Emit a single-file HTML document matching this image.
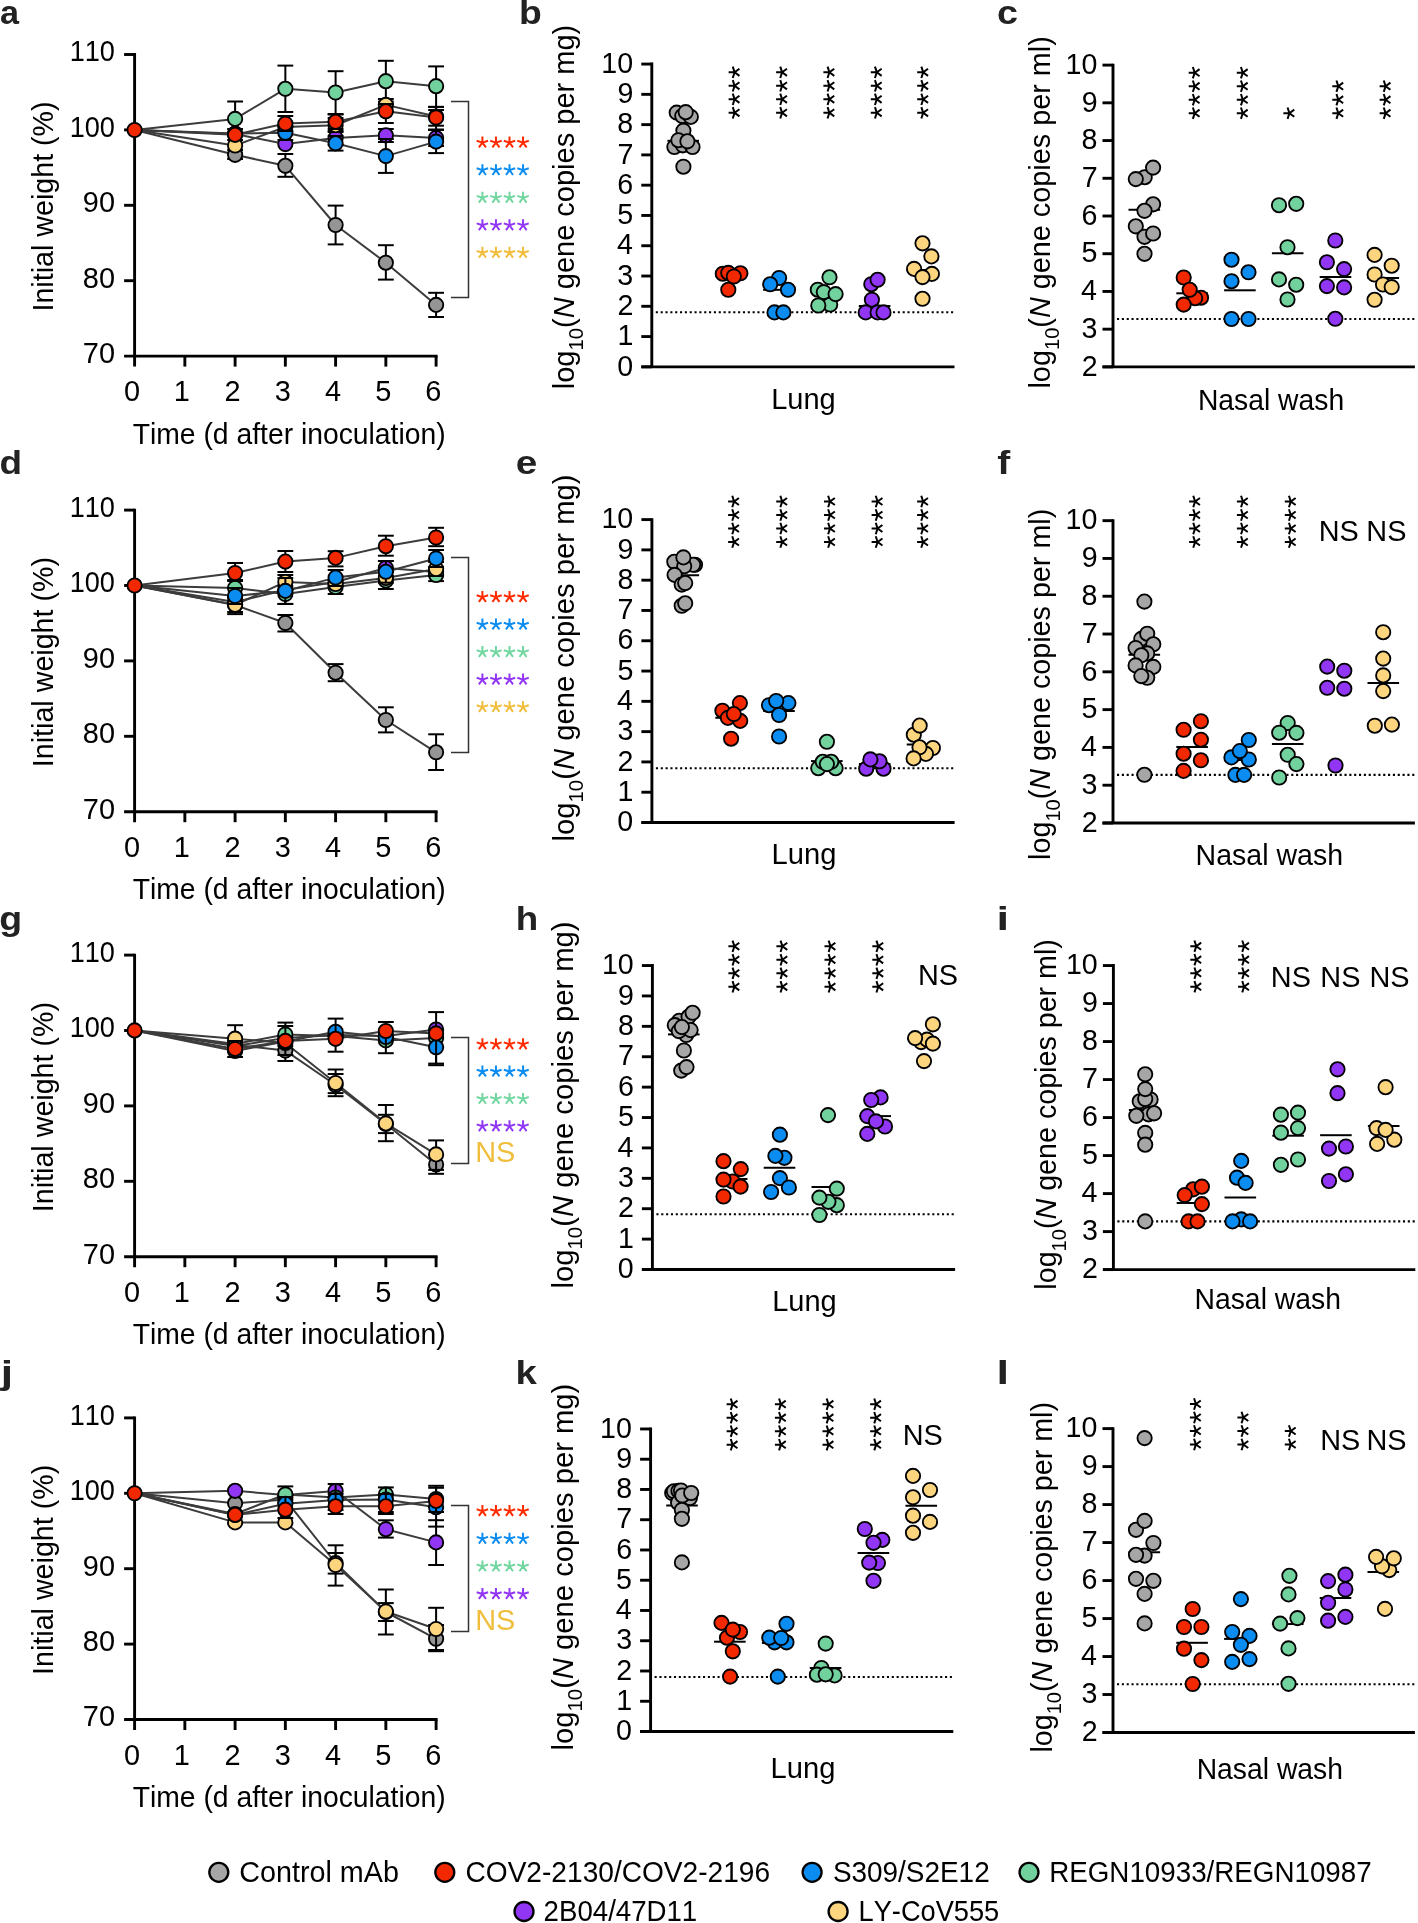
<!DOCTYPE html>
<html><head><meta charset="utf-8"><style>
html,body{margin:0;padding:0;background:#fff;}
svg{display:block;will-change:transform;font-family:"Liberation Sans", sans-serif;font-kerning:none;}
</style></head><body>
<svg xmlns="http://www.w3.org/2000/svg" width="1418" height="1923" viewBox="0 0 1418 1923">
<rect width="1418" height="1923" fill="#fff"/>
<line x1="134.6" y1="53.05" x2="134.6" y2="366.6" stroke="#000" stroke-width="2.9"/>
<line x1="124.1" y1="356.1" x2="437.6" y2="356.1" stroke="#000" stroke-width="2.9"/>
<line x1="124.1" y1="54.5" x2="134.6" y2="54.5" stroke="#000" stroke-width="2.9"/>
<line x1="124.1" y1="129.9" x2="134.6" y2="129.9" stroke="#000" stroke-width="2.9"/>
<line x1="124.1" y1="205.3" x2="134.6" y2="205.3" stroke="#000" stroke-width="2.9"/>
<line x1="124.1" y1="280.7" x2="134.6" y2="280.7" stroke="#000" stroke-width="2.9"/>
<line x1="184.85" y1="356.1" x2="184.85" y2="366.6" stroke="#000" stroke-width="2.9"/>
<line x1="235.1" y1="356.1" x2="235.1" y2="366.6" stroke="#000" stroke-width="2.9"/>
<line x1="285.35" y1="356.1" x2="285.35" y2="366.6" stroke="#000" stroke-width="2.9"/>
<line x1="335.6" y1="356.1" x2="335.6" y2="366.6" stroke="#000" stroke-width="2.9"/>
<line x1="385.85" y1="356.1" x2="385.85" y2="366.6" stroke="#000" stroke-width="2.9"/>
<line x1="436.1" y1="356.1" x2="436.1" y2="366.6" stroke="#000" stroke-width="2.9"/>
<text transform="translate(69.68 61.4) scale(0.9200 1)" font-size="29.5">110</text>
<text transform="translate(69.68 136.8) scale(0.9200 1)" font-size="29.5">100</text>
<text transform="translate(82.87 212.2) scale(0.9800 1)" font-size="29.5">90</text>
<text transform="translate(82.87 287.6) scale(0.9800 1)" font-size="29.5">80</text>
<text transform="translate(82.87 363) scale(0.9800 1)" font-size="29.5">70</text>
<text transform="translate(123.96 401.4) scale(0.9800 1)" font-size="29.5">0</text>
<text transform="translate(173.82 401.4) scale(0.9800 1)" font-size="29.5">1</text>
<text transform="translate(224.46 401.4) scale(0.9800 1)" font-size="29.5">2</text>
<text transform="translate(274.8 401.4) scale(0.9800 1)" font-size="29.5">3</text>
<text transform="translate(325.05 401.4) scale(0.9800 1)" font-size="29.5">4</text>
<text transform="translate(375.24 401.4) scale(0.9800 1)" font-size="29.5">5</text>
<text transform="translate(425.36 401.4) scale(0.9800 1)" font-size="29.5">6</text>
<text transform="translate(132.66 443.6) scale(0.9436 1)" font-size="30">Time (d after inoculation)</text>
<text transform="translate(52.6 311.54) rotate(-90) scale(0.9552 1)" font-size="30">Initial weight (%)</text>
<text transform="translate(0.06 23.8) scale(1.0526 1)" font-size="32.5" font-weight="bold" fill="#222">a</text>
<polyline points="134.6,130 235.1,154.8 285.35,165.8 335.6,225 385.85,262.7 436.1,304.9" fill="none" stroke="#3c3c3c" stroke-width="2" stroke-linejoin="round"/>
<polyline points="134.6,130 235.1,134 285.35,144.1 335.6,137.9 385.85,135.3 436.1,137.9" fill="none" stroke="#3c3c3c" stroke-width="2" stroke-linejoin="round"/>
<polyline points="134.6,130 235.1,118.9 285.35,88.8 335.6,92.5 385.85,81.2 436.1,86.2" fill="none" stroke="#3c3c3c" stroke-width="2" stroke-linejoin="round"/>
<polyline points="134.6,130 235.1,145.5 285.35,127 335.6,125.2 385.85,104.9 436.1,116.5" fill="none" stroke="#3c3c3c" stroke-width="2" stroke-linejoin="round"/>
<polyline points="134.6,130 235.1,133.5 285.35,132.8 335.6,143.3 385.85,156.1 436.1,141.6" fill="none" stroke="#3c3c3c" stroke-width="2" stroke-linejoin="round"/>
<polyline points="134.6,130 235.1,134.8 285.35,123.6 335.6,121.8 385.85,111.3 436.1,117.5" fill="none" stroke="#3c3c3c" stroke-width="2" stroke-linejoin="round"/>
<line x1="235.1" y1="150" x2="235.1" y2="159" stroke="#000" stroke-width="2"/>
<line x1="227.2" y1="150" x2="243" y2="150" stroke="#000" stroke-width="2"/>
<line x1="227.2" y1="159" x2="243" y2="159" stroke="#000" stroke-width="2"/>
<line x1="285.35" y1="154" x2="285.35" y2="176.8" stroke="#000" stroke-width="2"/>
<line x1="277.45" y1="154" x2="293.25" y2="154" stroke="#000" stroke-width="2"/>
<line x1="277.45" y1="176.8" x2="293.25" y2="176.8" stroke="#000" stroke-width="2"/>
<line x1="335.6" y1="205.6" x2="335.6" y2="244.4" stroke="#000" stroke-width="2"/>
<line x1="327.7" y1="205.6" x2="343.5" y2="205.6" stroke="#000" stroke-width="2"/>
<line x1="327.7" y1="244.4" x2="343.5" y2="244.4" stroke="#000" stroke-width="2"/>
<line x1="385.85" y1="245.2" x2="385.85" y2="279.6" stroke="#000" stroke-width="2"/>
<line x1="377.95" y1="245.2" x2="393.75" y2="245.2" stroke="#000" stroke-width="2"/>
<line x1="377.95" y1="279.6" x2="393.75" y2="279.6" stroke="#000" stroke-width="2"/>
<line x1="436.1" y1="292.8" x2="436.1" y2="317" stroke="#000" stroke-width="2"/>
<line x1="428.2" y1="292.8" x2="444" y2="292.8" stroke="#000" stroke-width="2"/>
<line x1="428.2" y1="317" x2="444" y2="317" stroke="#000" stroke-width="2"/>
<circle cx="235.1" cy="154.8" r="7.15" fill="#959595" stroke="#000" stroke-width="1.85"/>
<circle cx="285.35" cy="165.8" r="7.15" fill="#959595" stroke="#000" stroke-width="1.85"/>
<circle cx="335.6" cy="225" r="7.15" fill="#959595" stroke="#000" stroke-width="1.85"/>
<circle cx="385.85" cy="262.7" r="7.15" fill="#959595" stroke="#000" stroke-width="1.85"/>
<circle cx="436.1" cy="304.9" r="7.15" fill="#959595" stroke="#000" stroke-width="1.85"/>
<line x1="335.6" y1="131" x2="335.6" y2="145" stroke="#000" stroke-width="2"/>
<line x1="327.7" y1="131" x2="343.5" y2="131" stroke="#000" stroke-width="2"/>
<line x1="327.7" y1="145" x2="343.5" y2="145" stroke="#000" stroke-width="2"/>
<line x1="385.85" y1="129" x2="385.85" y2="142" stroke="#000" stroke-width="2"/>
<line x1="377.95" y1="129" x2="393.75" y2="129" stroke="#000" stroke-width="2"/>
<line x1="377.95" y1="142" x2="393.75" y2="142" stroke="#000" stroke-width="2"/>
<line x1="436.1" y1="129.7" x2="436.1" y2="146" stroke="#000" stroke-width="2"/>
<line x1="428.2" y1="129.7" x2="444" y2="129.7" stroke="#000" stroke-width="2"/>
<line x1="428.2" y1="146" x2="444" y2="146" stroke="#000" stroke-width="2"/>
<circle cx="235.1" cy="134" r="7.15" fill="#9236f6" stroke="#000" stroke-width="1.85"/>
<circle cx="285.35" cy="144.1" r="7.15" fill="#9236f6" stroke="#000" stroke-width="1.85"/>
<circle cx="335.6" cy="137.9" r="7.15" fill="#9236f6" stroke="#000" stroke-width="1.85"/>
<circle cx="385.85" cy="135.3" r="7.15" fill="#9236f6" stroke="#000" stroke-width="1.85"/>
<circle cx="436.1" cy="137.9" r="7.15" fill="#9236f6" stroke="#000" stroke-width="1.85"/>
<line x1="235.1" y1="101.5" x2="235.1" y2="136" stroke="#000" stroke-width="2"/>
<line x1="227.2" y1="101.5" x2="243" y2="101.5" stroke="#000" stroke-width="2"/>
<line x1="227.2" y1="136" x2="243" y2="136" stroke="#000" stroke-width="2"/>
<line x1="285.35" y1="65.6" x2="285.35" y2="112" stroke="#000" stroke-width="2"/>
<line x1="277.45" y1="65.6" x2="293.25" y2="65.6" stroke="#000" stroke-width="2"/>
<line x1="277.45" y1="112" x2="293.25" y2="112" stroke="#000" stroke-width="2"/>
<line x1="335.6" y1="71.2" x2="335.6" y2="114" stroke="#000" stroke-width="2"/>
<line x1="327.7" y1="71.2" x2="343.5" y2="71.2" stroke="#000" stroke-width="2"/>
<line x1="327.7" y1="114" x2="343.5" y2="114" stroke="#000" stroke-width="2"/>
<line x1="385.85" y1="60.8" x2="385.85" y2="101.6" stroke="#000" stroke-width="2"/>
<line x1="377.95" y1="60.8" x2="393.75" y2="60.8" stroke="#000" stroke-width="2"/>
<line x1="377.95" y1="101.6" x2="393.75" y2="101.6" stroke="#000" stroke-width="2"/>
<line x1="436.1" y1="66.4" x2="436.1" y2="106.9" stroke="#000" stroke-width="2"/>
<line x1="428.2" y1="66.4" x2="444" y2="66.4" stroke="#000" stroke-width="2"/>
<line x1="428.2" y1="106.9" x2="444" y2="106.9" stroke="#000" stroke-width="2"/>
<circle cx="235.1" cy="118.9" r="7.15" fill="#72d29e" stroke="#000" stroke-width="1.85"/>
<circle cx="285.35" cy="88.8" r="7.15" fill="#72d29e" stroke="#000" stroke-width="1.85"/>
<circle cx="335.6" cy="92.5" r="7.15" fill="#72d29e" stroke="#000" stroke-width="1.85"/>
<circle cx="385.85" cy="81.2" r="7.15" fill="#72d29e" stroke="#000" stroke-width="1.85"/>
<circle cx="436.1" cy="86.2" r="7.15" fill="#72d29e" stroke="#000" stroke-width="1.85"/>
<line x1="335.6" y1="118" x2="335.6" y2="132" stroke="#000" stroke-width="2"/>
<line x1="327.7" y1="118" x2="343.5" y2="118" stroke="#000" stroke-width="2"/>
<line x1="327.7" y1="132" x2="343.5" y2="132" stroke="#000" stroke-width="2"/>
<line x1="385.85" y1="99" x2="385.85" y2="111" stroke="#000" stroke-width="2"/>
<line x1="377.95" y1="99" x2="393.75" y2="99" stroke="#000" stroke-width="2"/>
<line x1="377.95" y1="111" x2="393.75" y2="111" stroke="#000" stroke-width="2"/>
<line x1="436.1" y1="106.9" x2="436.1" y2="129.7" stroke="#000" stroke-width="2"/>
<line x1="428.2" y1="106.9" x2="444" y2="106.9" stroke="#000" stroke-width="2"/>
<line x1="428.2" y1="129.7" x2="444" y2="129.7" stroke="#000" stroke-width="2"/>
<circle cx="235.1" cy="145.5" r="7.15" fill="#fdd57e" stroke="#000" stroke-width="1.85"/>
<circle cx="285.35" cy="127" r="7.15" fill="#fdd57e" stroke="#000" stroke-width="1.85"/>
<circle cx="335.6" cy="125.2" r="7.15" fill="#fdd57e" stroke="#000" stroke-width="1.85"/>
<circle cx="385.85" cy="104.9" r="7.15" fill="#fdd57e" stroke="#000" stroke-width="1.85"/>
<circle cx="436.1" cy="116.5" r="7.15" fill="#fdd57e" stroke="#000" stroke-width="1.85"/>
<line x1="285.35" y1="126" x2="285.35" y2="140" stroke="#000" stroke-width="2"/>
<line x1="277.45" y1="126" x2="293.25" y2="126" stroke="#000" stroke-width="2"/>
<line x1="277.45" y1="140" x2="293.25" y2="140" stroke="#000" stroke-width="2"/>
<line x1="335.6" y1="136" x2="335.6" y2="150.6" stroke="#000" stroke-width="2"/>
<line x1="327.7" y1="136" x2="343.5" y2="136" stroke="#000" stroke-width="2"/>
<line x1="327.7" y1="150.6" x2="343.5" y2="150.6" stroke="#000" stroke-width="2"/>
<line x1="385.85" y1="139" x2="385.85" y2="172.9" stroke="#000" stroke-width="2"/>
<line x1="377.95" y1="139" x2="393.75" y2="139" stroke="#000" stroke-width="2"/>
<line x1="377.95" y1="172.9" x2="393.75" y2="172.9" stroke="#000" stroke-width="2"/>
<line x1="436.1" y1="130" x2="436.1" y2="153.1" stroke="#000" stroke-width="2"/>
<line x1="428.2" y1="130" x2="444" y2="130" stroke="#000" stroke-width="2"/>
<line x1="428.2" y1="153.1" x2="444" y2="153.1" stroke="#000" stroke-width="2"/>
<circle cx="235.1" cy="133.5" r="7.15" fill="#0a8cf0" stroke="#000" stroke-width="1.85"/>
<circle cx="285.35" cy="132.8" r="7.15" fill="#0a8cf0" stroke="#000" stroke-width="1.85"/>
<circle cx="335.6" cy="143.3" r="7.15" fill="#0a8cf0" stroke="#000" stroke-width="1.85"/>
<circle cx="385.85" cy="156.1" r="7.15" fill="#0a8cf0" stroke="#000" stroke-width="1.85"/>
<circle cx="436.1" cy="141.6" r="7.15" fill="#0a8cf0" stroke="#000" stroke-width="1.85"/>
<line x1="235.1" y1="129" x2="235.1" y2="140" stroke="#000" stroke-width="2"/>
<line x1="227.2" y1="129" x2="243" y2="129" stroke="#000" stroke-width="2"/>
<line x1="227.2" y1="140" x2="243" y2="140" stroke="#000" stroke-width="2"/>
<line x1="285.35" y1="116" x2="285.35" y2="131" stroke="#000" stroke-width="2"/>
<line x1="277.45" y1="116" x2="293.25" y2="116" stroke="#000" stroke-width="2"/>
<line x1="277.45" y1="131" x2="293.25" y2="131" stroke="#000" stroke-width="2"/>
<line x1="335.6" y1="114.5" x2="335.6" y2="129" stroke="#000" stroke-width="2"/>
<line x1="327.7" y1="114.5" x2="343.5" y2="114.5" stroke="#000" stroke-width="2"/>
<line x1="327.7" y1="129" x2="343.5" y2="129" stroke="#000" stroke-width="2"/>
<line x1="385.85" y1="104" x2="385.85" y2="123" stroke="#000" stroke-width="2"/>
<line x1="377.95" y1="104" x2="393.75" y2="104" stroke="#000" stroke-width="2"/>
<line x1="377.95" y1="123" x2="393.75" y2="123" stroke="#000" stroke-width="2"/>
<line x1="436.1" y1="110" x2="436.1" y2="125.7" stroke="#000" stroke-width="2"/>
<line x1="428.2" y1="110" x2="444" y2="110" stroke="#000" stroke-width="2"/>
<line x1="428.2" y1="125.7" x2="444" y2="125.7" stroke="#000" stroke-width="2"/>
<circle cx="134.6" cy="130" r="7.15" fill="#f22800" stroke="#000" stroke-width="1.85"/>
<circle cx="235.1" cy="134.8" r="7.15" fill="#f22800" stroke="#000" stroke-width="1.85"/>
<circle cx="285.35" cy="123.6" r="7.15" fill="#f22800" stroke="#000" stroke-width="1.85"/>
<circle cx="335.6" cy="121.8" r="7.15" fill="#f22800" stroke="#000" stroke-width="1.85"/>
<circle cx="385.85" cy="111.3" r="7.15" fill="#f22800" stroke="#000" stroke-width="1.85"/>
<circle cx="436.1" cy="117.5" r="7.15" fill="#f22800" stroke="#000" stroke-width="1.85"/>
<polyline points="451,101.6 468.5,101.6 468.5,297.6 451,297.6" fill="none" stroke="#333" stroke-width="1.5"/>
<path d="M482.4 142.6L482.4 136.6M482.4 142.6L488.11 140.75M482.4 142.6L485.93 147.45M482.4 142.6L478.87 147.45M482.4 142.6L476.69 140.75" stroke="#ff2a00" stroke-width="2" fill="none"/>
<path d="M495.95 142.6L495.95 136.6M495.95 142.6L501.66 140.75M495.95 142.6L499.48 147.45M495.95 142.6L492.42 147.45M495.95 142.6L490.24 140.75" stroke="#ff2a00" stroke-width="2" fill="none"/>
<path d="M509.5 142.6L509.5 136.6M509.5 142.6L515.21 140.75M509.5 142.6L513.03 147.45M509.5 142.6L505.97 147.45M509.5 142.6L503.79 140.75" stroke="#ff2a00" stroke-width="2" fill="none"/>
<path d="M523.05 142.6L523.05 136.6M523.05 142.6L528.76 140.75M523.05 142.6L526.58 147.45M523.05 142.6L519.52 147.45M523.05 142.6L517.34 140.75" stroke="#ff2a00" stroke-width="2" fill="none"/>
<path d="M482.4 170.15L482.4 164.15M482.4 170.15L488.11 168.3M482.4 170.15L485.93 175M482.4 170.15L478.87 175M482.4 170.15L476.69 168.3" stroke="#0a8cf0" stroke-width="2" fill="none"/>
<path d="M495.95 170.15L495.95 164.15M495.95 170.15L501.66 168.3M495.95 170.15L499.48 175M495.95 170.15L492.42 175M495.95 170.15L490.24 168.3" stroke="#0a8cf0" stroke-width="2" fill="none"/>
<path d="M509.5 170.15L509.5 164.15M509.5 170.15L515.21 168.3M509.5 170.15L513.03 175M509.5 170.15L505.97 175M509.5 170.15L503.79 168.3" stroke="#0a8cf0" stroke-width="2" fill="none"/>
<path d="M523.05 170.15L523.05 164.15M523.05 170.15L528.76 168.3M523.05 170.15L526.58 175M523.05 170.15L519.52 175M523.05 170.15L517.34 168.3" stroke="#0a8cf0" stroke-width="2" fill="none"/>
<path d="M482.4 197.7L482.4 191.7M482.4 197.7L488.11 195.85M482.4 197.7L485.93 202.55M482.4 197.7L478.87 202.55M482.4 197.7L476.69 195.85" stroke="#72d6a0" stroke-width="2" fill="none"/>
<path d="M495.95 197.7L495.95 191.7M495.95 197.7L501.66 195.85M495.95 197.7L499.48 202.55M495.95 197.7L492.42 202.55M495.95 197.7L490.24 195.85" stroke="#72d6a0" stroke-width="2" fill="none"/>
<path d="M509.5 197.7L509.5 191.7M509.5 197.7L515.21 195.85M509.5 197.7L513.03 202.55M509.5 197.7L505.97 202.55M509.5 197.7L503.79 195.85" stroke="#72d6a0" stroke-width="2" fill="none"/>
<path d="M523.05 197.7L523.05 191.7M523.05 197.7L528.76 195.85M523.05 197.7L526.58 202.55M523.05 197.7L519.52 202.55M523.05 197.7L517.34 195.85" stroke="#72d6a0" stroke-width="2" fill="none"/>
<path d="M482.4 225.25L482.4 219.25M482.4 225.25L488.11 223.4M482.4 225.25L485.93 230.1M482.4 225.25L478.87 230.1M482.4 225.25L476.69 223.4" stroke="#9236f6" stroke-width="2" fill="none"/>
<path d="M495.95 225.25L495.95 219.25M495.95 225.25L501.66 223.4M495.95 225.25L499.48 230.1M495.95 225.25L492.42 230.1M495.95 225.25L490.24 223.4" stroke="#9236f6" stroke-width="2" fill="none"/>
<path d="M509.5 225.25L509.5 219.25M509.5 225.25L515.21 223.4M509.5 225.25L513.03 230.1M509.5 225.25L505.97 230.1M509.5 225.25L503.79 223.4" stroke="#9236f6" stroke-width="2" fill="none"/>
<path d="M523.05 225.25L523.05 219.25M523.05 225.25L528.76 223.4M523.05 225.25L526.58 230.1M523.05 225.25L519.52 230.1M523.05 225.25L517.34 223.4" stroke="#9236f6" stroke-width="2" fill="none"/>
<path d="M482.4 252.8L482.4 246.8M482.4 252.8L488.11 250.95M482.4 252.8L485.93 257.65M482.4 252.8L478.87 257.65M482.4 252.8L476.69 250.95" stroke="#f0be3c" stroke-width="2" fill="none"/>
<path d="M495.95 252.8L495.95 246.8M495.95 252.8L501.66 250.95M495.95 252.8L499.48 257.65M495.95 252.8L492.42 257.65M495.95 252.8L490.24 250.95" stroke="#f0be3c" stroke-width="2" fill="none"/>
<path d="M509.5 252.8L509.5 246.8M509.5 252.8L515.21 250.95M509.5 252.8L513.03 257.65M509.5 252.8L505.97 257.65M509.5 252.8L503.79 250.95" stroke="#f0be3c" stroke-width="2" fill="none"/>
<path d="M523.05 252.8L523.05 246.8M523.05 252.8L528.76 250.95M523.05 252.8L526.58 257.65M523.05 252.8L519.52 257.65M523.05 252.8L517.34 250.95" stroke="#f0be3c" stroke-width="2" fill="none"/>
<line x1="134.6" y1="508.65" x2="134.6" y2="822.2" stroke="#000" stroke-width="2.9"/>
<line x1="124.1" y1="811.7" x2="437.6" y2="811.7" stroke="#000" stroke-width="2.9"/>
<line x1="124.1" y1="510.1" x2="134.6" y2="510.1" stroke="#000" stroke-width="2.9"/>
<line x1="124.1" y1="585.5" x2="134.6" y2="585.5" stroke="#000" stroke-width="2.9"/>
<line x1="124.1" y1="660.9" x2="134.6" y2="660.9" stroke="#000" stroke-width="2.9"/>
<line x1="124.1" y1="736.3" x2="134.6" y2="736.3" stroke="#000" stroke-width="2.9"/>
<line x1="184.85" y1="811.7" x2="184.85" y2="822.2" stroke="#000" stroke-width="2.9"/>
<line x1="235.1" y1="811.7" x2="235.1" y2="822.2" stroke="#000" stroke-width="2.9"/>
<line x1="285.35" y1="811.7" x2="285.35" y2="822.2" stroke="#000" stroke-width="2.9"/>
<line x1="335.6" y1="811.7" x2="335.6" y2="822.2" stroke="#000" stroke-width="2.9"/>
<line x1="385.85" y1="811.7" x2="385.85" y2="822.2" stroke="#000" stroke-width="2.9"/>
<line x1="436.1" y1="811.7" x2="436.1" y2="822.2" stroke="#000" stroke-width="2.9"/>
<text transform="translate(69.68 517) scale(0.9200 1)" font-size="29.5">110</text>
<text transform="translate(69.68 592.4) scale(0.9200 1)" font-size="29.5">100</text>
<text transform="translate(82.87 667.8) scale(0.9800 1)" font-size="29.5">90</text>
<text transform="translate(82.87 743.2) scale(0.9800 1)" font-size="29.5">80</text>
<text transform="translate(82.87 818.6) scale(0.9800 1)" font-size="29.5">70</text>
<text transform="translate(123.96 857) scale(0.9800 1)" font-size="29.5">0</text>
<text transform="translate(173.82 857) scale(0.9800 1)" font-size="29.5">1</text>
<text transform="translate(224.46 857) scale(0.9800 1)" font-size="29.5">2</text>
<text transform="translate(274.8 857) scale(0.9800 1)" font-size="29.5">3</text>
<text transform="translate(325.05 857) scale(0.9800 1)" font-size="29.5">4</text>
<text transform="translate(375.24 857) scale(0.9800 1)" font-size="29.5">5</text>
<text transform="translate(425.36 857) scale(0.9800 1)" font-size="29.5">6</text>
<text transform="translate(132.66 899.2) scale(0.9436 1)" font-size="30">Time (d after inoculation)</text>
<text transform="translate(52.6 767.14) rotate(-90) scale(0.9552 1)" font-size="30">Initial weight (%)</text>
<text transform="translate(-0.41 474.1) scale(1.1357 1)" font-size="32.5" font-weight="bold" fill="#222">d</text>
<polyline points="134.6,585.5 235.1,605 285.35,623 335.6,672.7 385.85,720 436.1,752.3" fill="none" stroke="#3c3c3c" stroke-width="2" stroke-linejoin="round"/>
<polyline points="134.6,585.5 235.1,602 285.35,590 335.6,582 385.85,568 436.1,572" fill="none" stroke="#3c3c3c" stroke-width="2" stroke-linejoin="round"/>
<polyline points="134.6,585.5 235.1,588 285.35,594 335.6,587 385.85,580.5 436.1,575" fill="none" stroke="#3c3c3c" stroke-width="2" stroke-linejoin="round"/>
<polyline points="134.6,585.5 235.1,604.8 285.35,582 335.6,584 385.85,578 436.1,569" fill="none" stroke="#3c3c3c" stroke-width="2" stroke-linejoin="round"/>
<polyline points="134.6,585.5 235.1,596 285.35,590.9 335.6,577.6 385.85,571.8 436.1,558.5" fill="none" stroke="#3c3c3c" stroke-width="2" stroke-linejoin="round"/>
<polyline points="134.6,585.5 235.1,573 285.35,561.6 335.6,557.9 385.85,546.2 436.1,537.5" fill="none" stroke="#3c3c3c" stroke-width="2" stroke-linejoin="round"/>
<line x1="235.1" y1="598" x2="235.1" y2="612" stroke="#000" stroke-width="2"/>
<line x1="227.2" y1="598" x2="243" y2="598" stroke="#000" stroke-width="2"/>
<line x1="227.2" y1="612" x2="243" y2="612" stroke="#000" stroke-width="2"/>
<line x1="285.35" y1="615" x2="285.35" y2="631.5" stroke="#000" stroke-width="2"/>
<line x1="277.45" y1="615" x2="293.25" y2="615" stroke="#000" stroke-width="2"/>
<line x1="277.45" y1="631.5" x2="293.25" y2="631.5" stroke="#000" stroke-width="2"/>
<line x1="335.6" y1="664.1" x2="335.6" y2="681.2" stroke="#000" stroke-width="2"/>
<line x1="327.7" y1="664.1" x2="343.5" y2="664.1" stroke="#000" stroke-width="2"/>
<line x1="327.7" y1="681.2" x2="343.5" y2="681.2" stroke="#000" stroke-width="2"/>
<line x1="385.85" y1="707.3" x2="385.85" y2="732.4" stroke="#000" stroke-width="2"/>
<line x1="377.95" y1="707.3" x2="393.75" y2="707.3" stroke="#000" stroke-width="2"/>
<line x1="377.95" y1="732.4" x2="393.75" y2="732.4" stroke="#000" stroke-width="2"/>
<line x1="436.1" y1="734.3" x2="436.1" y2="770" stroke="#000" stroke-width="2"/>
<line x1="428.2" y1="734.3" x2="444" y2="734.3" stroke="#000" stroke-width="2"/>
<line x1="428.2" y1="770" x2="444" y2="770" stroke="#000" stroke-width="2"/>
<circle cx="235.1" cy="605" r="7.15" fill="#959595" stroke="#000" stroke-width="1.85"/>
<circle cx="285.35" cy="623" r="7.15" fill="#959595" stroke="#000" stroke-width="1.85"/>
<circle cx="335.6" cy="672.7" r="7.15" fill="#959595" stroke="#000" stroke-width="1.85"/>
<circle cx="385.85" cy="720" r="7.15" fill="#959595" stroke="#000" stroke-width="1.85"/>
<circle cx="436.1" cy="752.3" r="7.15" fill="#959595" stroke="#000" stroke-width="1.85"/>
<line x1="385.85" y1="561" x2="385.85" y2="576" stroke="#000" stroke-width="2"/>
<line x1="377.95" y1="561" x2="393.75" y2="561" stroke="#000" stroke-width="2"/>
<line x1="377.95" y1="576" x2="393.75" y2="576" stroke="#000" stroke-width="2"/>
<circle cx="235.1" cy="602" r="7.15" fill="#9236f6" stroke="#000" stroke-width="1.85"/>
<circle cx="285.35" cy="590" r="7.15" fill="#9236f6" stroke="#000" stroke-width="1.85"/>
<circle cx="335.6" cy="582" r="7.15" fill="#9236f6" stroke="#000" stroke-width="1.85"/>
<circle cx="385.85" cy="568" r="7.15" fill="#9236f6" stroke="#000" stroke-width="1.85"/>
<circle cx="436.1" cy="572" r="7.15" fill="#9236f6" stroke="#000" stroke-width="1.85"/>
<line x1="235.1" y1="580" x2="235.1" y2="596" stroke="#000" stroke-width="2"/>
<line x1="227.2" y1="580" x2="243" y2="580" stroke="#000" stroke-width="2"/>
<line x1="227.2" y1="596" x2="243" y2="596" stroke="#000" stroke-width="2"/>
<line x1="285.35" y1="586" x2="285.35" y2="604" stroke="#000" stroke-width="2"/>
<line x1="277.45" y1="586" x2="293.25" y2="586" stroke="#000" stroke-width="2"/>
<line x1="277.45" y1="604" x2="293.25" y2="604" stroke="#000" stroke-width="2"/>
<line x1="335.6" y1="580" x2="335.6" y2="594" stroke="#000" stroke-width="2"/>
<line x1="327.7" y1="580" x2="343.5" y2="580" stroke="#000" stroke-width="2"/>
<line x1="327.7" y1="594" x2="343.5" y2="594" stroke="#000" stroke-width="2"/>
<line x1="385.85" y1="572" x2="385.85" y2="589" stroke="#000" stroke-width="2"/>
<line x1="377.95" y1="572" x2="393.75" y2="572" stroke="#000" stroke-width="2"/>
<line x1="377.95" y1="589" x2="393.75" y2="589" stroke="#000" stroke-width="2"/>
<line x1="436.1" y1="568" x2="436.1" y2="581.1" stroke="#000" stroke-width="2"/>
<line x1="428.2" y1="568" x2="444" y2="568" stroke="#000" stroke-width="2"/>
<line x1="428.2" y1="581.1" x2="444" y2="581.1" stroke="#000" stroke-width="2"/>
<circle cx="235.1" cy="588" r="7.15" fill="#72d29e" stroke="#000" stroke-width="1.85"/>
<circle cx="285.35" cy="594" r="7.15" fill="#72d29e" stroke="#000" stroke-width="1.85"/>
<circle cx="335.6" cy="587" r="7.15" fill="#72d29e" stroke="#000" stroke-width="1.85"/>
<circle cx="385.85" cy="580.5" r="7.15" fill="#72d29e" stroke="#000" stroke-width="1.85"/>
<circle cx="436.1" cy="575" r="7.15" fill="#72d29e" stroke="#000" stroke-width="1.85"/>
<line x1="235.1" y1="596" x2="235.1" y2="614.1" stroke="#000" stroke-width="2"/>
<line x1="227.2" y1="596" x2="243" y2="596" stroke="#000" stroke-width="2"/>
<line x1="227.2" y1="614.1" x2="243" y2="614.1" stroke="#000" stroke-width="2"/>
<line x1="285.35" y1="575" x2="285.35" y2="590" stroke="#000" stroke-width="2"/>
<line x1="277.45" y1="575" x2="293.25" y2="575" stroke="#000" stroke-width="2"/>
<line x1="277.45" y1="590" x2="293.25" y2="590" stroke="#000" stroke-width="2"/>
<line x1="436.1" y1="562" x2="436.1" y2="576" stroke="#000" stroke-width="2"/>
<line x1="428.2" y1="562" x2="444" y2="562" stroke="#000" stroke-width="2"/>
<line x1="428.2" y1="576" x2="444" y2="576" stroke="#000" stroke-width="2"/>
<circle cx="235.1" cy="604.8" r="7.15" fill="#fdd57e" stroke="#000" stroke-width="1.85"/>
<circle cx="285.35" cy="582" r="7.15" fill="#fdd57e" stroke="#000" stroke-width="1.85"/>
<circle cx="335.6" cy="584" r="7.15" fill="#fdd57e" stroke="#000" stroke-width="1.85"/>
<circle cx="385.85" cy="578" r="7.15" fill="#fdd57e" stroke="#000" stroke-width="1.85"/>
<circle cx="436.1" cy="569" r="7.15" fill="#fdd57e" stroke="#000" stroke-width="1.85"/>
<line x1="235.1" y1="588" x2="235.1" y2="604" stroke="#000" stroke-width="2"/>
<line x1="227.2" y1="588" x2="243" y2="588" stroke="#000" stroke-width="2"/>
<line x1="227.2" y1="604" x2="243" y2="604" stroke="#000" stroke-width="2"/>
<line x1="285.35" y1="578" x2="285.35" y2="603.9" stroke="#000" stroke-width="2"/>
<line x1="277.45" y1="578" x2="293.25" y2="578" stroke="#000" stroke-width="2"/>
<line x1="277.45" y1="603.9" x2="293.25" y2="603.9" stroke="#000" stroke-width="2"/>
<line x1="335.6" y1="570" x2="335.6" y2="586" stroke="#000" stroke-width="2"/>
<line x1="327.7" y1="570" x2="343.5" y2="570" stroke="#000" stroke-width="2"/>
<line x1="327.7" y1="586" x2="343.5" y2="586" stroke="#000" stroke-width="2"/>
<line x1="385.85" y1="561" x2="385.85" y2="582.7" stroke="#000" stroke-width="2"/>
<line x1="377.95" y1="561" x2="393.75" y2="561" stroke="#000" stroke-width="2"/>
<line x1="377.95" y1="582.7" x2="393.75" y2="582.7" stroke="#000" stroke-width="2"/>
<line x1="436.1" y1="550" x2="436.1" y2="567" stroke="#000" stroke-width="2"/>
<line x1="428.2" y1="550" x2="444" y2="550" stroke="#000" stroke-width="2"/>
<line x1="428.2" y1="567" x2="444" y2="567" stroke="#000" stroke-width="2"/>
<circle cx="235.1" cy="596" r="7.15" fill="#0a8cf0" stroke="#000" stroke-width="1.85"/>
<circle cx="285.35" cy="590.9" r="7.15" fill="#0a8cf0" stroke="#000" stroke-width="1.85"/>
<circle cx="335.6" cy="577.6" r="7.15" fill="#0a8cf0" stroke="#000" stroke-width="1.85"/>
<circle cx="385.85" cy="571.8" r="7.15" fill="#0a8cf0" stroke="#000" stroke-width="1.85"/>
<circle cx="436.1" cy="558.5" r="7.15" fill="#0a8cf0" stroke="#000" stroke-width="1.85"/>
<line x1="235.1" y1="563" x2="235.1" y2="581" stroke="#000" stroke-width="2"/>
<line x1="227.2" y1="563" x2="243" y2="563" stroke="#000" stroke-width="2"/>
<line x1="227.2" y1="581" x2="243" y2="581" stroke="#000" stroke-width="2"/>
<line x1="285.35" y1="551" x2="285.35" y2="572" stroke="#000" stroke-width="2"/>
<line x1="277.45" y1="551" x2="293.25" y2="551" stroke="#000" stroke-width="2"/>
<line x1="277.45" y1="572" x2="293.25" y2="572" stroke="#000" stroke-width="2"/>
<line x1="335.6" y1="551.2" x2="335.6" y2="566.4" stroke="#000" stroke-width="2"/>
<line x1="327.7" y1="551.2" x2="343.5" y2="551.2" stroke="#000" stroke-width="2"/>
<line x1="327.7" y1="566.4" x2="343.5" y2="566.4" stroke="#000" stroke-width="2"/>
<line x1="385.85" y1="535.7" x2="385.85" y2="555.7" stroke="#000" stroke-width="2"/>
<line x1="377.95" y1="535.7" x2="393.75" y2="535.7" stroke="#000" stroke-width="2"/>
<line x1="377.95" y1="555.7" x2="393.75" y2="555.7" stroke="#000" stroke-width="2"/>
<line x1="436.1" y1="527.8" x2="436.1" y2="546.2" stroke="#000" stroke-width="2"/>
<line x1="428.2" y1="527.8" x2="444" y2="527.8" stroke="#000" stroke-width="2"/>
<line x1="428.2" y1="546.2" x2="444" y2="546.2" stroke="#000" stroke-width="2"/>
<circle cx="134.6" cy="585.5" r="7.15" fill="#f22800" stroke="#000" stroke-width="1.85"/>
<circle cx="235.1" cy="573" r="7.15" fill="#f22800" stroke="#000" stroke-width="1.85"/>
<circle cx="285.35" cy="561.6" r="7.15" fill="#f22800" stroke="#000" stroke-width="1.85"/>
<circle cx="335.6" cy="557.9" r="7.15" fill="#f22800" stroke="#000" stroke-width="1.85"/>
<circle cx="385.85" cy="546.2" r="7.15" fill="#f22800" stroke="#000" stroke-width="1.85"/>
<circle cx="436.1" cy="537.5" r="7.15" fill="#f22800" stroke="#000" stroke-width="1.85"/>
<polyline points="451,557.5 468.5,557.5 468.5,752.6 451,752.6" fill="none" stroke="#333" stroke-width="1.5"/>
<path d="M482.4 597.1L482.4 591.1M482.4 597.1L488.11 595.25M482.4 597.1L485.93 601.95M482.4 597.1L478.87 601.95M482.4 597.1L476.69 595.25" stroke="#ff2a00" stroke-width="2" fill="none"/>
<path d="M495.95 597.1L495.95 591.1M495.95 597.1L501.66 595.25M495.95 597.1L499.48 601.95M495.95 597.1L492.42 601.95M495.95 597.1L490.24 595.25" stroke="#ff2a00" stroke-width="2" fill="none"/>
<path d="M509.5 597.1L509.5 591.1M509.5 597.1L515.21 595.25M509.5 597.1L513.03 601.95M509.5 597.1L505.97 601.95M509.5 597.1L503.79 595.25" stroke="#ff2a00" stroke-width="2" fill="none"/>
<path d="M523.05 597.1L523.05 591.1M523.05 597.1L528.76 595.25M523.05 597.1L526.58 601.95M523.05 597.1L519.52 601.95M523.05 597.1L517.34 595.25" stroke="#ff2a00" stroke-width="2" fill="none"/>
<path d="M482.4 624.6L482.4 618.6M482.4 624.6L488.11 622.75M482.4 624.6L485.93 629.45M482.4 624.6L478.87 629.45M482.4 624.6L476.69 622.75" stroke="#0a8cf0" stroke-width="2" fill="none"/>
<path d="M495.95 624.6L495.95 618.6M495.95 624.6L501.66 622.75M495.95 624.6L499.48 629.45M495.95 624.6L492.42 629.45M495.95 624.6L490.24 622.75" stroke="#0a8cf0" stroke-width="2" fill="none"/>
<path d="M509.5 624.6L509.5 618.6M509.5 624.6L515.21 622.75M509.5 624.6L513.03 629.45M509.5 624.6L505.97 629.45M509.5 624.6L503.79 622.75" stroke="#0a8cf0" stroke-width="2" fill="none"/>
<path d="M523.05 624.6L523.05 618.6M523.05 624.6L528.76 622.75M523.05 624.6L526.58 629.45M523.05 624.6L519.52 629.45M523.05 624.6L517.34 622.75" stroke="#0a8cf0" stroke-width="2" fill="none"/>
<path d="M482.4 652.1L482.4 646.1M482.4 652.1L488.11 650.25M482.4 652.1L485.93 656.95M482.4 652.1L478.87 656.95M482.4 652.1L476.69 650.25" stroke="#72d6a0" stroke-width="2" fill="none"/>
<path d="M495.95 652.1L495.95 646.1M495.95 652.1L501.66 650.25M495.95 652.1L499.48 656.95M495.95 652.1L492.42 656.95M495.95 652.1L490.24 650.25" stroke="#72d6a0" stroke-width="2" fill="none"/>
<path d="M509.5 652.1L509.5 646.1M509.5 652.1L515.21 650.25M509.5 652.1L513.03 656.95M509.5 652.1L505.97 656.95M509.5 652.1L503.79 650.25" stroke="#72d6a0" stroke-width="2" fill="none"/>
<path d="M523.05 652.1L523.05 646.1M523.05 652.1L528.76 650.25M523.05 652.1L526.58 656.95M523.05 652.1L519.52 656.95M523.05 652.1L517.34 650.25" stroke="#72d6a0" stroke-width="2" fill="none"/>
<path d="M482.4 679.6L482.4 673.6M482.4 679.6L488.11 677.75M482.4 679.6L485.93 684.45M482.4 679.6L478.87 684.45M482.4 679.6L476.69 677.75" stroke="#9236f6" stroke-width="2" fill="none"/>
<path d="M495.95 679.6L495.95 673.6M495.95 679.6L501.66 677.75M495.95 679.6L499.48 684.45M495.95 679.6L492.42 684.45M495.95 679.6L490.24 677.75" stroke="#9236f6" stroke-width="2" fill="none"/>
<path d="M509.5 679.6L509.5 673.6M509.5 679.6L515.21 677.75M509.5 679.6L513.03 684.45M509.5 679.6L505.97 684.45M509.5 679.6L503.79 677.75" stroke="#9236f6" stroke-width="2" fill="none"/>
<path d="M523.05 679.6L523.05 673.6M523.05 679.6L528.76 677.75M523.05 679.6L526.58 684.45M523.05 679.6L519.52 684.45M523.05 679.6L517.34 677.75" stroke="#9236f6" stroke-width="2" fill="none"/>
<path d="M482.4 707.1L482.4 701.1M482.4 707.1L488.11 705.25M482.4 707.1L485.93 711.95M482.4 707.1L478.87 711.95M482.4 707.1L476.69 705.25" stroke="#f0be3c" stroke-width="2" fill="none"/>
<path d="M495.95 707.1L495.95 701.1M495.95 707.1L501.66 705.25M495.95 707.1L499.48 711.95M495.95 707.1L492.42 711.95M495.95 707.1L490.24 705.25" stroke="#f0be3c" stroke-width="2" fill="none"/>
<path d="M509.5 707.1L509.5 701.1M509.5 707.1L515.21 705.25M509.5 707.1L513.03 711.95M509.5 707.1L505.97 711.95M509.5 707.1L503.79 705.25" stroke="#f0be3c" stroke-width="2" fill="none"/>
<path d="M523.05 707.1L523.05 701.1M523.05 707.1L528.76 705.25M523.05 707.1L526.58 711.95M523.05 707.1L519.52 711.95M523.05 707.1L517.34 705.25" stroke="#f0be3c" stroke-width="2" fill="none"/>
<line x1="134.6" y1="953.65" x2="134.6" y2="1267.2" stroke="#000" stroke-width="2.9"/>
<line x1="124.1" y1="1256.7" x2="437.6" y2="1256.7" stroke="#000" stroke-width="2.9"/>
<line x1="124.1" y1="955.1" x2="134.6" y2="955.1" stroke="#000" stroke-width="2.9"/>
<line x1="124.1" y1="1030.5" x2="134.6" y2="1030.5" stroke="#000" stroke-width="2.9"/>
<line x1="124.1" y1="1105.9" x2="134.6" y2="1105.9" stroke="#000" stroke-width="2.9"/>
<line x1="124.1" y1="1181.3" x2="134.6" y2="1181.3" stroke="#000" stroke-width="2.9"/>
<line x1="184.85" y1="1256.7" x2="184.85" y2="1267.2" stroke="#000" stroke-width="2.9"/>
<line x1="235.1" y1="1256.7" x2="235.1" y2="1267.2" stroke="#000" stroke-width="2.9"/>
<line x1="285.35" y1="1256.7" x2="285.35" y2="1267.2" stroke="#000" stroke-width="2.9"/>
<line x1="335.6" y1="1256.7" x2="335.6" y2="1267.2" stroke="#000" stroke-width="2.9"/>
<line x1="385.85" y1="1256.7" x2="385.85" y2="1267.2" stroke="#000" stroke-width="2.9"/>
<line x1="436.1" y1="1256.7" x2="436.1" y2="1267.2" stroke="#000" stroke-width="2.9"/>
<text transform="translate(69.68 962) scale(0.9200 1)" font-size="29.5">110</text>
<text transform="translate(69.68 1037.4) scale(0.9200 1)" font-size="29.5">100</text>
<text transform="translate(82.87 1112.8) scale(0.9800 1)" font-size="29.5">90</text>
<text transform="translate(82.87 1188.2) scale(0.9800 1)" font-size="29.5">80</text>
<text transform="translate(82.87 1263.6) scale(0.9800 1)" font-size="29.5">70</text>
<text transform="translate(123.96 1302) scale(0.9800 1)" font-size="29.5">0</text>
<text transform="translate(173.82 1302) scale(0.9800 1)" font-size="29.5">1</text>
<text transform="translate(224.46 1302) scale(0.9800 1)" font-size="29.5">2</text>
<text transform="translate(274.8 1302) scale(0.9800 1)" font-size="29.5">3</text>
<text transform="translate(325.05 1302) scale(0.9800 1)" font-size="29.5">4</text>
<text transform="translate(375.24 1302) scale(0.9800 1)" font-size="29.5">5</text>
<text transform="translate(425.36 1302) scale(0.9800 1)" font-size="29.5">6</text>
<text transform="translate(132.66 1344.2) scale(0.9436 1)" font-size="30">Time (d after inoculation)</text>
<text transform="translate(52.6 1212.14) rotate(-90) scale(0.9552 1)" font-size="30">Initial weight (%)</text>
<text transform="translate(-0.69 929.9) scale(1.1532 1)" font-size="32.5" font-weight="bold" fill="#222">g</text>
<polyline points="134.6,1030.45 235.1,1045 285.35,1050.6 335.6,1085 385.85,1124 436.1,1164.5" fill="none" stroke="#3c3c3c" stroke-width="2" stroke-linejoin="round"/>
<polyline points="134.6,1030.45 235.1,1046 285.35,1038 335.6,1035 385.85,1036 436.1,1029.5" fill="none" stroke="#3c3c3c" stroke-width="2" stroke-linejoin="round"/>
<polyline points="134.6,1030.45 235.1,1044 285.35,1034.5 335.6,1036 385.85,1040.4 436.1,1038" fill="none" stroke="#3c3c3c" stroke-width="2" stroke-linejoin="round"/>
<polyline points="134.6,1030.45 235.1,1038.7 285.35,1043 335.6,1083 385.85,1123.4 436.1,1154.4" fill="none" stroke="#3c3c3c" stroke-width="2" stroke-linejoin="round"/>
<polyline points="134.6,1030.45 235.1,1051 285.35,1041.5 335.6,1031.8 385.85,1037 436.1,1047.3" fill="none" stroke="#3c3c3c" stroke-width="2" stroke-linejoin="round"/>
<polyline points="134.6,1030.45 235.1,1048.9 285.35,1040.9 335.6,1038.8 385.85,1031 436.1,1033.4" fill="none" stroke="#3c3c3c" stroke-width="2" stroke-linejoin="round"/>
<line x1="285.35" y1="1040" x2="285.35" y2="1061" stroke="#000" stroke-width="2"/>
<line x1="277.45" y1="1040" x2="293.25" y2="1040" stroke="#000" stroke-width="2"/>
<line x1="277.45" y1="1061" x2="293.25" y2="1061" stroke="#000" stroke-width="2"/>
<line x1="335.6" y1="1074" x2="335.6" y2="1093.1" stroke="#000" stroke-width="2"/>
<line x1="327.7" y1="1074" x2="343.5" y2="1074" stroke="#000" stroke-width="2"/>
<line x1="327.7" y1="1093.1" x2="343.5" y2="1093.1" stroke="#000" stroke-width="2"/>
<line x1="385.85" y1="1114.8" x2="385.85" y2="1133.1" stroke="#000" stroke-width="2"/>
<line x1="377.95" y1="1114.8" x2="393.75" y2="1114.8" stroke="#000" stroke-width="2"/>
<line x1="377.95" y1="1133.1" x2="393.75" y2="1133.1" stroke="#000" stroke-width="2"/>
<line x1="436.1" y1="1155" x2="436.1" y2="1173.8" stroke="#000" stroke-width="2"/>
<line x1="428.2" y1="1155" x2="444" y2="1155" stroke="#000" stroke-width="2"/>
<line x1="428.2" y1="1173.8" x2="444" y2="1173.8" stroke="#000" stroke-width="2"/>
<circle cx="235.1" cy="1045" r="7.15" fill="#959595" stroke="#000" stroke-width="1.85"/>
<circle cx="285.35" cy="1050.6" r="7.15" fill="#959595" stroke="#000" stroke-width="1.85"/>
<circle cx="335.6" cy="1085" r="7.15" fill="#959595" stroke="#000" stroke-width="1.85"/>
<circle cx="385.85" cy="1124" r="7.15" fill="#959595" stroke="#000" stroke-width="1.85"/>
<circle cx="436.1" cy="1164.5" r="7.15" fill="#959595" stroke="#000" stroke-width="1.85"/>
<circle cx="235.1" cy="1046" r="7.15" fill="#9236f6" stroke="#000" stroke-width="1.85"/>
<circle cx="285.35" cy="1038" r="7.15" fill="#9236f6" stroke="#000" stroke-width="1.85"/>
<circle cx="335.6" cy="1035" r="7.15" fill="#9236f6" stroke="#000" stroke-width="1.85"/>
<circle cx="385.85" cy="1036" r="7.15" fill="#9236f6" stroke="#000" stroke-width="1.85"/>
<circle cx="436.1" cy="1029.5" r="7.15" fill="#9236f6" stroke="#000" stroke-width="1.85"/>
<line x1="285.35" y1="1022.6" x2="285.35" y2="1046" stroke="#000" stroke-width="2"/>
<line x1="277.45" y1="1022.6" x2="293.25" y2="1022.6" stroke="#000" stroke-width="2"/>
<line x1="277.45" y1="1046" x2="293.25" y2="1046" stroke="#000" stroke-width="2"/>
<circle cx="235.1" cy="1044" r="7.15" fill="#72d29e" stroke="#000" stroke-width="1.85"/>
<circle cx="285.35" cy="1034.5" r="7.15" fill="#72d29e" stroke="#000" stroke-width="1.85"/>
<circle cx="335.6" cy="1036" r="7.15" fill="#72d29e" stroke="#000" stroke-width="1.85"/>
<circle cx="385.85" cy="1040.4" r="7.15" fill="#72d29e" stroke="#000" stroke-width="1.85"/>
<circle cx="436.1" cy="1038" r="7.15" fill="#72d29e" stroke="#000" stroke-width="1.85"/>
<line x1="235.1" y1="1025.2" x2="235.1" y2="1052" stroke="#000" stroke-width="2"/>
<line x1="227.2" y1="1025.2" x2="243" y2="1025.2" stroke="#000" stroke-width="2"/>
<line x1="227.2" y1="1052" x2="243" y2="1052" stroke="#000" stroke-width="2"/>
<line x1="335.6" y1="1069.5" x2="335.6" y2="1096.2" stroke="#000" stroke-width="2"/>
<line x1="327.7" y1="1069.5" x2="343.5" y2="1069.5" stroke="#000" stroke-width="2"/>
<line x1="327.7" y1="1096.2" x2="343.5" y2="1096.2" stroke="#000" stroke-width="2"/>
<line x1="385.85" y1="1105" x2="385.85" y2="1141.2" stroke="#000" stroke-width="2"/>
<line x1="377.95" y1="1105" x2="393.75" y2="1105" stroke="#000" stroke-width="2"/>
<line x1="377.95" y1="1141.2" x2="393.75" y2="1141.2" stroke="#000" stroke-width="2"/>
<line x1="436.1" y1="1140.4" x2="436.1" y2="1169.9" stroke="#000" stroke-width="2"/>
<line x1="428.2" y1="1140.4" x2="444" y2="1140.4" stroke="#000" stroke-width="2"/>
<line x1="428.2" y1="1169.9" x2="444" y2="1169.9" stroke="#000" stroke-width="2"/>
<circle cx="235.1" cy="1038.7" r="7.15" fill="#fdd57e" stroke="#000" stroke-width="1.85"/>
<circle cx="285.35" cy="1043" r="7.15" fill="#fdd57e" stroke="#000" stroke-width="1.85"/>
<circle cx="335.6" cy="1083" r="7.15" fill="#fdd57e" stroke="#000" stroke-width="1.85"/>
<circle cx="385.85" cy="1123.4" r="7.15" fill="#fdd57e" stroke="#000" stroke-width="1.85"/>
<circle cx="436.1" cy="1154.4" r="7.15" fill="#fdd57e" stroke="#000" stroke-width="1.85"/>
<line x1="436.1" y1="1030" x2="436.1" y2="1065.2" stroke="#000" stroke-width="2"/>
<line x1="428.2" y1="1030" x2="444" y2="1030" stroke="#000" stroke-width="2"/>
<line x1="428.2" y1="1065.2" x2="444" y2="1065.2" stroke="#000" stroke-width="2"/>
<circle cx="235.1" cy="1051" r="7.15" fill="#0a8cf0" stroke="#000" stroke-width="1.85"/>
<circle cx="285.35" cy="1041.5" r="7.15" fill="#0a8cf0" stroke="#000" stroke-width="1.85"/>
<circle cx="335.6" cy="1031.8" r="7.15" fill="#0a8cf0" stroke="#000" stroke-width="1.85"/>
<circle cx="385.85" cy="1037" r="7.15" fill="#0a8cf0" stroke="#000" stroke-width="1.85"/>
<circle cx="436.1" cy="1047.3" r="7.15" fill="#0a8cf0" stroke="#000" stroke-width="1.85"/>
<line x1="235.1" y1="1041" x2="235.1" y2="1057" stroke="#000" stroke-width="2"/>
<line x1="227.2" y1="1041" x2="243" y2="1041" stroke="#000" stroke-width="2"/>
<line x1="227.2" y1="1057" x2="243" y2="1057" stroke="#000" stroke-width="2"/>
<line x1="285.35" y1="1026" x2="285.35" y2="1055" stroke="#000" stroke-width="2"/>
<line x1="277.45" y1="1026" x2="293.25" y2="1026" stroke="#000" stroke-width="2"/>
<line x1="277.45" y1="1055" x2="293.25" y2="1055" stroke="#000" stroke-width="2"/>
<line x1="335.6" y1="1018.6" x2="335.6" y2="1051.7" stroke="#000" stroke-width="2"/>
<line x1="327.7" y1="1018.6" x2="343.5" y2="1018.6" stroke="#000" stroke-width="2"/>
<line x1="327.7" y1="1051.7" x2="343.5" y2="1051.7" stroke="#000" stroke-width="2"/>
<line x1="385.85" y1="1022" x2="385.85" y2="1053.2" stroke="#000" stroke-width="2"/>
<line x1="377.95" y1="1022" x2="393.75" y2="1022" stroke="#000" stroke-width="2"/>
<line x1="377.95" y1="1053.2" x2="393.75" y2="1053.2" stroke="#000" stroke-width="2"/>
<line x1="436.1" y1="1012.1" x2="436.1" y2="1063.6" stroke="#000" stroke-width="2"/>
<line x1="428.2" y1="1012.1" x2="444" y2="1012.1" stroke="#000" stroke-width="2"/>
<line x1="428.2" y1="1063.6" x2="444" y2="1063.6" stroke="#000" stroke-width="2"/>
<circle cx="134.6" cy="1030.45" r="7.15" fill="#f22800" stroke="#000" stroke-width="1.85"/>
<circle cx="235.1" cy="1048.9" r="7.15" fill="#f22800" stroke="#000" stroke-width="1.85"/>
<circle cx="285.35" cy="1040.9" r="7.15" fill="#f22800" stroke="#000" stroke-width="1.85"/>
<circle cx="335.6" cy="1038.8" r="7.15" fill="#f22800" stroke="#000" stroke-width="1.85"/>
<circle cx="385.85" cy="1031" r="7.15" fill="#f22800" stroke="#000" stroke-width="1.85"/>
<circle cx="436.1" cy="1033.4" r="7.15" fill="#f22800" stroke="#000" stroke-width="1.85"/>
<polyline points="451,1037.5 468.5,1037.5 468.5,1163.4 451,1163.4" fill="none" stroke="#333" stroke-width="1.5"/>
<path d="M482.4 1044.2L482.4 1038.2M482.4 1044.2L488.11 1042.35M482.4 1044.2L485.93 1049.05M482.4 1044.2L478.87 1049.05M482.4 1044.2L476.69 1042.35" stroke="#ff2a00" stroke-width="2" fill="none"/>
<path d="M495.95 1044.2L495.95 1038.2M495.95 1044.2L501.66 1042.35M495.95 1044.2L499.48 1049.05M495.95 1044.2L492.42 1049.05M495.95 1044.2L490.24 1042.35" stroke="#ff2a00" stroke-width="2" fill="none"/>
<path d="M509.5 1044.2L509.5 1038.2M509.5 1044.2L515.21 1042.35M509.5 1044.2L513.03 1049.05M509.5 1044.2L505.97 1049.05M509.5 1044.2L503.79 1042.35" stroke="#ff2a00" stroke-width="2" fill="none"/>
<path d="M523.05 1044.2L523.05 1038.2M523.05 1044.2L528.76 1042.35M523.05 1044.2L526.58 1049.05M523.05 1044.2L519.52 1049.05M523.05 1044.2L517.34 1042.35" stroke="#ff2a00" stroke-width="2" fill="none"/>
<path d="M482.4 1071.55L482.4 1065.55M482.4 1071.55L488.11 1069.7M482.4 1071.55L485.93 1076.4M482.4 1071.55L478.87 1076.4M482.4 1071.55L476.69 1069.7" stroke="#0a8cf0" stroke-width="2" fill="none"/>
<path d="M495.95 1071.55L495.95 1065.55M495.95 1071.55L501.66 1069.7M495.95 1071.55L499.48 1076.4M495.95 1071.55L492.42 1076.4M495.95 1071.55L490.24 1069.7" stroke="#0a8cf0" stroke-width="2" fill="none"/>
<path d="M509.5 1071.55L509.5 1065.55M509.5 1071.55L515.21 1069.7M509.5 1071.55L513.03 1076.4M509.5 1071.55L505.97 1076.4M509.5 1071.55L503.79 1069.7" stroke="#0a8cf0" stroke-width="2" fill="none"/>
<path d="M523.05 1071.55L523.05 1065.55M523.05 1071.55L528.76 1069.7M523.05 1071.55L526.58 1076.4M523.05 1071.55L519.52 1076.4M523.05 1071.55L517.34 1069.7" stroke="#0a8cf0" stroke-width="2" fill="none"/>
<path d="M482.4 1098.9L482.4 1092.9M482.4 1098.9L488.11 1097.05M482.4 1098.9L485.93 1103.75M482.4 1098.9L478.87 1103.75M482.4 1098.9L476.69 1097.05" stroke="#72d6a0" stroke-width="2" fill="none"/>
<path d="M495.95 1098.9L495.95 1092.9M495.95 1098.9L501.66 1097.05M495.95 1098.9L499.48 1103.75M495.95 1098.9L492.42 1103.75M495.95 1098.9L490.24 1097.05" stroke="#72d6a0" stroke-width="2" fill="none"/>
<path d="M509.5 1098.9L509.5 1092.9M509.5 1098.9L515.21 1097.05M509.5 1098.9L513.03 1103.75M509.5 1098.9L505.97 1103.75M509.5 1098.9L503.79 1097.05" stroke="#72d6a0" stroke-width="2" fill="none"/>
<path d="M523.05 1098.9L523.05 1092.9M523.05 1098.9L528.76 1097.05M523.05 1098.9L526.58 1103.75M523.05 1098.9L519.52 1103.75M523.05 1098.9L517.34 1097.05" stroke="#72d6a0" stroke-width="2" fill="none"/>
<path d="M482.4 1126.25L482.4 1120.25M482.4 1126.25L488.11 1124.4M482.4 1126.25L485.93 1131.1M482.4 1126.25L478.87 1131.1M482.4 1126.25L476.69 1124.4" stroke="#9236f6" stroke-width="2" fill="none"/>
<path d="M495.95 1126.25L495.95 1120.25M495.95 1126.25L501.66 1124.4M495.95 1126.25L499.48 1131.1M495.95 1126.25L492.42 1131.1M495.95 1126.25L490.24 1124.4" stroke="#9236f6" stroke-width="2" fill="none"/>
<path d="M509.5 1126.25L509.5 1120.25M509.5 1126.25L515.21 1124.4M509.5 1126.25L513.03 1131.1M509.5 1126.25L505.97 1131.1M509.5 1126.25L503.79 1124.4" stroke="#9236f6" stroke-width="2" fill="none"/>
<path d="M523.05 1126.25L523.05 1120.25M523.05 1126.25L528.76 1124.4M523.05 1126.25L526.58 1131.1M523.05 1126.25L519.52 1131.1M523.05 1126.25L517.34 1124.4" stroke="#9236f6" stroke-width="2" fill="none"/>
<text transform="translate(475.13 1162.1) scale(0.9647 1)" font-size="30" fill="#f0be3c">NS</text>
<line x1="134.6" y1="1416.45" x2="134.6" y2="1730" stroke="#000" stroke-width="2.9"/>
<line x1="124.1" y1="1719.5" x2="437.6" y2="1719.5" stroke="#000" stroke-width="2.9"/>
<line x1="124.1" y1="1417.9" x2="134.6" y2="1417.9" stroke="#000" stroke-width="2.9"/>
<line x1="124.1" y1="1493.3" x2="134.6" y2="1493.3" stroke="#000" stroke-width="2.9"/>
<line x1="124.1" y1="1568.7" x2="134.6" y2="1568.7" stroke="#000" stroke-width="2.9"/>
<line x1="124.1" y1="1644.1" x2="134.6" y2="1644.1" stroke="#000" stroke-width="2.9"/>
<line x1="184.85" y1="1719.5" x2="184.85" y2="1730" stroke="#000" stroke-width="2.9"/>
<line x1="235.1" y1="1719.5" x2="235.1" y2="1730" stroke="#000" stroke-width="2.9"/>
<line x1="285.35" y1="1719.5" x2="285.35" y2="1730" stroke="#000" stroke-width="2.9"/>
<line x1="335.6" y1="1719.5" x2="335.6" y2="1730" stroke="#000" stroke-width="2.9"/>
<line x1="385.85" y1="1719.5" x2="385.85" y2="1730" stroke="#000" stroke-width="2.9"/>
<line x1="436.1" y1="1719.5" x2="436.1" y2="1730" stroke="#000" stroke-width="2.9"/>
<text transform="translate(69.68 1424.8) scale(0.9200 1)" font-size="29.5">110</text>
<text transform="translate(69.68 1500.2) scale(0.9200 1)" font-size="29.5">100</text>
<text transform="translate(82.87 1575.6) scale(0.9800 1)" font-size="29.5">90</text>
<text transform="translate(82.87 1651) scale(0.9800 1)" font-size="29.5">80</text>
<text transform="translate(82.87 1726.4) scale(0.9800 1)" font-size="29.5">70</text>
<text transform="translate(123.96 1764.8) scale(0.9800 1)" font-size="29.5">0</text>
<text transform="translate(173.82 1764.8) scale(0.9800 1)" font-size="29.5">1</text>
<text transform="translate(224.46 1764.8) scale(0.9800 1)" font-size="29.5">2</text>
<text transform="translate(274.8 1764.8) scale(0.9800 1)" font-size="29.5">3</text>
<text transform="translate(325.05 1764.8) scale(0.9800 1)" font-size="29.5">4</text>
<text transform="translate(375.24 1764.8) scale(0.9800 1)" font-size="29.5">5</text>
<text transform="translate(425.36 1764.8) scale(0.9800 1)" font-size="29.5">6</text>
<text transform="translate(132.66 1807) scale(0.9436 1)" font-size="30">Time (d after inoculation)</text>
<text transform="translate(52.6 1674.94) rotate(-90) scale(0.9552 1)" font-size="30">Initial weight (%)</text>
<text transform="translate(0.69 1383.8) scale(1.3651 1)" font-size="32.5" font-weight="bold" fill="#222">j</text>
<polyline points="134.6,1493.25 235.1,1503.3 285.35,1499.6 335.6,1563 385.85,1612 436.1,1638.8" fill="none" stroke="#3c3c3c" stroke-width="2" stroke-linejoin="round"/>
<polyline points="134.6,1493.25 235.1,1490.8 285.35,1495 335.6,1491 385.85,1529.2 436.1,1542.4" fill="none" stroke="#3c3c3c" stroke-width="2" stroke-linejoin="round"/>
<polyline points="134.6,1493.25 235.1,1514 285.35,1494.5 335.6,1497.5 385.85,1494.5 436.1,1499" fill="none" stroke="#3c3c3c" stroke-width="2" stroke-linejoin="round"/>
<polyline points="134.6,1493.25 235.1,1522.4 285.35,1522.4 335.6,1565 385.85,1611.5 436.1,1629" fill="none" stroke="#3c3c3c" stroke-width="2" stroke-linejoin="round"/>
<polyline points="134.6,1493.25 235.1,1515 285.35,1503.8 335.6,1500 385.85,1499.6 436.1,1507.2" fill="none" stroke="#3c3c3c" stroke-width="2" stroke-linejoin="round"/>
<polyline points="134.6,1493.25 235.1,1514.8 285.35,1509.7 335.6,1506.3 385.85,1506.3 436.1,1500.9" fill="none" stroke="#3c3c3c" stroke-width="2" stroke-linejoin="round"/>
<line x1="335.6" y1="1553" x2="335.6" y2="1573.6" stroke="#000" stroke-width="2"/>
<line x1="327.7" y1="1553" x2="343.5" y2="1553" stroke="#000" stroke-width="2"/>
<line x1="327.7" y1="1573.6" x2="343.5" y2="1573.6" stroke="#000" stroke-width="2"/>
<line x1="385.85" y1="1603.1" x2="385.85" y2="1621" stroke="#000" stroke-width="2"/>
<line x1="377.95" y1="1603.1" x2="393.75" y2="1603.1" stroke="#000" stroke-width="2"/>
<line x1="377.95" y1="1621" x2="393.75" y2="1621" stroke="#000" stroke-width="2"/>
<line x1="436.1" y1="1625" x2="436.1" y2="1651.2" stroke="#000" stroke-width="2"/>
<line x1="428.2" y1="1625" x2="444" y2="1625" stroke="#000" stroke-width="2"/>
<line x1="428.2" y1="1651.2" x2="444" y2="1651.2" stroke="#000" stroke-width="2"/>
<circle cx="235.1" cy="1503.3" r="7.15" fill="#959595" stroke="#000" stroke-width="1.85"/>
<circle cx="285.35" cy="1499.6" r="7.15" fill="#959595" stroke="#000" stroke-width="1.85"/>
<circle cx="335.6" cy="1563" r="7.15" fill="#959595" stroke="#000" stroke-width="1.85"/>
<circle cx="385.85" cy="1612" r="7.15" fill="#959595" stroke="#000" stroke-width="1.85"/>
<circle cx="436.1" cy="1638.8" r="7.15" fill="#959595" stroke="#000" stroke-width="1.85"/>
<line x1="385.85" y1="1520.3" x2="385.85" y2="1537.6" stroke="#000" stroke-width="2"/>
<line x1="377.95" y1="1520.3" x2="393.75" y2="1520.3" stroke="#000" stroke-width="2"/>
<line x1="377.95" y1="1537.6" x2="393.75" y2="1537.6" stroke="#000" stroke-width="2"/>
<line x1="436.1" y1="1520.2" x2="436.1" y2="1565" stroke="#000" stroke-width="2"/>
<line x1="428.2" y1="1520.2" x2="444" y2="1520.2" stroke="#000" stroke-width="2"/>
<line x1="428.2" y1="1565" x2="444" y2="1565" stroke="#000" stroke-width="2"/>
<circle cx="235.1" cy="1490.8" r="7.15" fill="#9236f6" stroke="#000" stroke-width="1.85"/>
<circle cx="285.35" cy="1495" r="7.15" fill="#9236f6" stroke="#000" stroke-width="1.85"/>
<circle cx="335.6" cy="1491" r="7.15" fill="#9236f6" stroke="#000" stroke-width="1.85"/>
<circle cx="385.85" cy="1529.2" r="7.15" fill="#9236f6" stroke="#000" stroke-width="1.85"/>
<circle cx="436.1" cy="1542.4" r="7.15" fill="#9236f6" stroke="#000" stroke-width="1.85"/>
<line x1="285.35" y1="1486.4" x2="285.35" y2="1503" stroke="#000" stroke-width="2"/>
<line x1="277.45" y1="1486.4" x2="293.25" y2="1486.4" stroke="#000" stroke-width="2"/>
<line x1="277.45" y1="1503" x2="293.25" y2="1503" stroke="#000" stroke-width="2"/>
<circle cx="235.1" cy="1514" r="7.15" fill="#72d29e" stroke="#000" stroke-width="1.85"/>
<circle cx="285.35" cy="1494.5" r="7.15" fill="#72d29e" stroke="#000" stroke-width="1.85"/>
<circle cx="335.6" cy="1497.5" r="7.15" fill="#72d29e" stroke="#000" stroke-width="1.85"/>
<circle cx="385.85" cy="1494.5" r="7.15" fill="#72d29e" stroke="#000" stroke-width="1.85"/>
<circle cx="436.1" cy="1499" r="7.15" fill="#72d29e" stroke="#000" stroke-width="1.85"/>
<line x1="335.6" y1="1545.3" x2="335.6" y2="1585.6" stroke="#000" stroke-width="2"/>
<line x1="327.7" y1="1545.3" x2="343.5" y2="1545.3" stroke="#000" stroke-width="2"/>
<line x1="327.7" y1="1585.6" x2="343.5" y2="1585.6" stroke="#000" stroke-width="2"/>
<line x1="385.85" y1="1589.5" x2="385.85" y2="1634.5" stroke="#000" stroke-width="2"/>
<line x1="377.95" y1="1589.5" x2="393.75" y2="1589.5" stroke="#000" stroke-width="2"/>
<line x1="377.95" y1="1634.5" x2="393.75" y2="1634.5" stroke="#000" stroke-width="2"/>
<line x1="436.1" y1="1607.8" x2="436.1" y2="1650" stroke="#000" stroke-width="2"/>
<line x1="428.2" y1="1607.8" x2="444" y2="1607.8" stroke="#000" stroke-width="2"/>
<line x1="428.2" y1="1650" x2="444" y2="1650" stroke="#000" stroke-width="2"/>
<circle cx="235.1" cy="1522.4" r="7.15" fill="#fdd57e" stroke="#000" stroke-width="1.85"/>
<circle cx="285.35" cy="1522.4" r="7.15" fill="#fdd57e" stroke="#000" stroke-width="1.85"/>
<circle cx="335.6" cy="1565" r="7.15" fill="#fdd57e" stroke="#000" stroke-width="1.85"/>
<circle cx="385.85" cy="1611.5" r="7.15" fill="#fdd57e" stroke="#000" stroke-width="1.85"/>
<circle cx="436.1" cy="1629" r="7.15" fill="#fdd57e" stroke="#000" stroke-width="1.85"/>
<line x1="335.6" y1="1484" x2="335.6" y2="1510" stroke="#000" stroke-width="2"/>
<line x1="327.7" y1="1484" x2="343.5" y2="1484" stroke="#000" stroke-width="2"/>
<line x1="327.7" y1="1510" x2="343.5" y2="1510" stroke="#000" stroke-width="2"/>
<line x1="385.85" y1="1487.4" x2="385.85" y2="1512" stroke="#000" stroke-width="2"/>
<line x1="377.95" y1="1487.4" x2="393.75" y2="1487.4" stroke="#000" stroke-width="2"/>
<line x1="377.95" y1="1512" x2="393.75" y2="1512" stroke="#000" stroke-width="2"/>
<line x1="436.1" y1="1487.8" x2="436.1" y2="1526.6" stroke="#000" stroke-width="2"/>
<line x1="428.2" y1="1487.8" x2="444" y2="1487.8" stroke="#000" stroke-width="2"/>
<line x1="428.2" y1="1526.6" x2="444" y2="1526.6" stroke="#000" stroke-width="2"/>
<circle cx="235.1" cy="1515" r="7.15" fill="#0a8cf0" stroke="#000" stroke-width="1.85"/>
<circle cx="285.35" cy="1503.8" r="7.15" fill="#0a8cf0" stroke="#000" stroke-width="1.85"/>
<circle cx="335.6" cy="1500" r="7.15" fill="#0a8cf0" stroke="#000" stroke-width="1.85"/>
<circle cx="385.85" cy="1499.6" r="7.15" fill="#0a8cf0" stroke="#000" stroke-width="1.85"/>
<circle cx="436.1" cy="1507.2" r="7.15" fill="#0a8cf0" stroke="#000" stroke-width="1.85"/>
<line x1="285.35" y1="1497" x2="285.35" y2="1518" stroke="#000" stroke-width="2"/>
<line x1="277.45" y1="1497" x2="293.25" y2="1497" stroke="#000" stroke-width="2"/>
<line x1="277.45" y1="1518" x2="293.25" y2="1518" stroke="#000" stroke-width="2"/>
<line x1="335.6" y1="1494" x2="335.6" y2="1514" stroke="#000" stroke-width="2"/>
<line x1="327.7" y1="1494" x2="343.5" y2="1494" stroke="#000" stroke-width="2"/>
<line x1="327.7" y1="1514" x2="343.5" y2="1514" stroke="#000" stroke-width="2"/>
<line x1="385.85" y1="1494" x2="385.85" y2="1514" stroke="#000" stroke-width="2"/>
<line x1="377.95" y1="1494" x2="393.75" y2="1494" stroke="#000" stroke-width="2"/>
<line x1="377.95" y1="1514" x2="393.75" y2="1514" stroke="#000" stroke-width="2"/>
<line x1="436.1" y1="1485.8" x2="436.1" y2="1512" stroke="#000" stroke-width="2"/>
<line x1="428.2" y1="1485.8" x2="444" y2="1485.8" stroke="#000" stroke-width="2"/>
<line x1="428.2" y1="1512" x2="444" y2="1512" stroke="#000" stroke-width="2"/>
<circle cx="134.6" cy="1493.25" r="7.15" fill="#f22800" stroke="#000" stroke-width="1.85"/>
<circle cx="235.1" cy="1514.8" r="7.15" fill="#f22800" stroke="#000" stroke-width="1.85"/>
<circle cx="285.35" cy="1509.7" r="7.15" fill="#f22800" stroke="#000" stroke-width="1.85"/>
<circle cx="335.6" cy="1506.3" r="7.15" fill="#f22800" stroke="#000" stroke-width="1.85"/>
<circle cx="385.85" cy="1506.3" r="7.15" fill="#f22800" stroke="#000" stroke-width="1.85"/>
<circle cx="436.1" cy="1500.9" r="7.15" fill="#f22800" stroke="#000" stroke-width="1.85"/>
<polyline points="451,1505.4 468.5,1505.4 468.5,1631.4 451,1631.4" fill="none" stroke="#333" stroke-width="1.5"/>
<path d="M482.4 1511.1L482.4 1505.1M482.4 1511.1L488.11 1509.25M482.4 1511.1L485.93 1515.95M482.4 1511.1L478.87 1515.95M482.4 1511.1L476.69 1509.25" stroke="#ff2a00" stroke-width="2" fill="none"/>
<path d="M495.95 1511.1L495.95 1505.1M495.95 1511.1L501.66 1509.25M495.95 1511.1L499.48 1515.95M495.95 1511.1L492.42 1515.95M495.95 1511.1L490.24 1509.25" stroke="#ff2a00" stroke-width="2" fill="none"/>
<path d="M509.5 1511.1L509.5 1505.1M509.5 1511.1L515.21 1509.25M509.5 1511.1L513.03 1515.95M509.5 1511.1L505.97 1515.95M509.5 1511.1L503.79 1509.25" stroke="#ff2a00" stroke-width="2" fill="none"/>
<path d="M523.05 1511.1L523.05 1505.1M523.05 1511.1L528.76 1509.25M523.05 1511.1L526.58 1515.95M523.05 1511.1L519.52 1515.95M523.05 1511.1L517.34 1509.25" stroke="#ff2a00" stroke-width="2" fill="none"/>
<path d="M482.4 1538.75L482.4 1532.75M482.4 1538.75L488.11 1536.9M482.4 1538.75L485.93 1543.6M482.4 1538.75L478.87 1543.6M482.4 1538.75L476.69 1536.9" stroke="#0a8cf0" stroke-width="2" fill="none"/>
<path d="M495.95 1538.75L495.95 1532.75M495.95 1538.75L501.66 1536.9M495.95 1538.75L499.48 1543.6M495.95 1538.75L492.42 1543.6M495.95 1538.75L490.24 1536.9" stroke="#0a8cf0" stroke-width="2" fill="none"/>
<path d="M509.5 1538.75L509.5 1532.75M509.5 1538.75L515.21 1536.9M509.5 1538.75L513.03 1543.6M509.5 1538.75L505.97 1543.6M509.5 1538.75L503.79 1536.9" stroke="#0a8cf0" stroke-width="2" fill="none"/>
<path d="M523.05 1538.75L523.05 1532.75M523.05 1538.75L528.76 1536.9M523.05 1538.75L526.58 1543.6M523.05 1538.75L519.52 1543.6M523.05 1538.75L517.34 1536.9" stroke="#0a8cf0" stroke-width="2" fill="none"/>
<path d="M482.4 1566.4L482.4 1560.4M482.4 1566.4L488.11 1564.55M482.4 1566.4L485.93 1571.25M482.4 1566.4L478.87 1571.25M482.4 1566.4L476.69 1564.55" stroke="#72d6a0" stroke-width="2" fill="none"/>
<path d="M495.95 1566.4L495.95 1560.4M495.95 1566.4L501.66 1564.55M495.95 1566.4L499.48 1571.25M495.95 1566.4L492.42 1571.25M495.95 1566.4L490.24 1564.55" stroke="#72d6a0" stroke-width="2" fill="none"/>
<path d="M509.5 1566.4L509.5 1560.4M509.5 1566.4L515.21 1564.55M509.5 1566.4L513.03 1571.25M509.5 1566.4L505.97 1571.25M509.5 1566.4L503.79 1564.55" stroke="#72d6a0" stroke-width="2" fill="none"/>
<path d="M523.05 1566.4L523.05 1560.4M523.05 1566.4L528.76 1564.55M523.05 1566.4L526.58 1571.25M523.05 1566.4L519.52 1571.25M523.05 1566.4L517.34 1564.55" stroke="#72d6a0" stroke-width="2" fill="none"/>
<path d="M482.4 1594.05L482.4 1588.05M482.4 1594.05L488.11 1592.2M482.4 1594.05L485.93 1598.9M482.4 1594.05L478.87 1598.9M482.4 1594.05L476.69 1592.2" stroke="#9236f6" stroke-width="2" fill="none"/>
<path d="M495.95 1594.05L495.95 1588.05M495.95 1594.05L501.66 1592.2M495.95 1594.05L499.48 1598.9M495.95 1594.05L492.42 1598.9M495.95 1594.05L490.24 1592.2" stroke="#9236f6" stroke-width="2" fill="none"/>
<path d="M509.5 1594.05L509.5 1588.05M509.5 1594.05L515.21 1592.2M509.5 1594.05L513.03 1598.9M509.5 1594.05L505.97 1598.9M509.5 1594.05L503.79 1592.2" stroke="#9236f6" stroke-width="2" fill="none"/>
<path d="M523.05 1594.05L523.05 1588.05M523.05 1594.05L528.76 1592.2M523.05 1594.05L526.58 1598.9M523.05 1594.05L519.52 1598.9M523.05 1594.05L517.34 1592.2" stroke="#9236f6" stroke-width="2" fill="none"/>
<text transform="translate(475.13 1629.5) scale(0.9647 1)" font-size="30" fill="#f0be3c">NS</text>
<line x1="651.8" y1="62.62" x2="651.8" y2="366.85" stroke="#000" stroke-width="2.9"/>
<line x1="641.3" y1="366.85" x2="954.5" y2="366.85" stroke="#000" stroke-width="2.9"/>
<line x1="641.3" y1="366.85" x2="651.8" y2="366.85" stroke="#000" stroke-width="2.9"/>
<text transform="translate(617.2 375.55) scale(0.9700 1)" font-size="29.5">0</text>
<line x1="641.3" y1="336.57" x2="651.8" y2="336.57" stroke="#000" stroke-width="2.9"/>
<text transform="translate(617.48 345.27) scale(0.9700 1)" font-size="29.5">1</text>
<line x1="641.3" y1="306.29" x2="651.8" y2="306.29" stroke="#000" stroke-width="2.9"/>
<text transform="translate(617.52 314.99) scale(0.9700 1)" font-size="29.5">2</text>
<line x1="641.3" y1="276.02" x2="651.8" y2="276.02" stroke="#000" stroke-width="2.9"/>
<text transform="translate(617.34 284.72) scale(0.9700 1)" font-size="29.5">3</text>
<line x1="641.3" y1="245.74" x2="651.8" y2="245.74" stroke="#000" stroke-width="2.9"/>
<text transform="translate(616.92 254.44) scale(0.9700 1)" font-size="29.5">4</text>
<line x1="641.3" y1="215.46" x2="651.8" y2="215.46" stroke="#000" stroke-width="2.9"/>
<text transform="translate(617.29 224.16) scale(0.9700 1)" font-size="29.5">5</text>
<line x1="641.3" y1="185.18" x2="651.8" y2="185.18" stroke="#000" stroke-width="2.9"/>
<text transform="translate(617.34 193.88) scale(0.9700 1)" font-size="29.5">6</text>
<line x1="641.3" y1="154.9" x2="651.8" y2="154.9" stroke="#000" stroke-width="2.9"/>
<text transform="translate(617.52 163.6) scale(0.9700 1)" font-size="29.5">7</text>
<line x1="641.3" y1="124.63" x2="651.8" y2="124.63" stroke="#000" stroke-width="2.9"/>
<text transform="translate(617.33 133.33) scale(0.9700 1)" font-size="29.5">8</text>
<line x1="641.3" y1="94.35" x2="651.8" y2="94.35" stroke="#000" stroke-width="2.9"/>
<text transform="translate(617.44 103.05) scale(0.9700 1)" font-size="29.5">9</text>
<line x1="641.3" y1="64.07" x2="651.8" y2="64.07" stroke="#000" stroke-width="2.9"/>
<text transform="translate(601.29 72.77) scale(0.9700 1)" font-size="29.5">10</text>
<line x1="655.8" y1="312.2" x2="954.5" y2="312.2" stroke="#000" stroke-width="2.1" stroke-dasharray="2.1 2.74"/>
<text transform="translate(771.22 408.9) scale(0.9672 1)" font-size="30">Lung</text>
<text transform="translate(573.9 389.26) rotate(-90) scale(0.9676 1)" font-size="30">log<tspan font-size="21" dy="9.3">10</tspan><tspan dy="-9.3">(</tspan><tspan font-style="italic">N</tspan> gene copies per mg)</text>
<text transform="translate(518.94 23.8) scale(1.1480 1)" font-size="32.5" font-weight="bold" fill="#222">b</text>
<line x1="667.4" y1="140.8" x2="699" y2="140.8" stroke="#000" stroke-width="2"/>
<circle cx="676.7" cy="112.6" r="7.15" fill="#a6a6a6" stroke="#000" stroke-width="1.85"/>
<circle cx="682.3" cy="116" r="7.15" fill="#a6a6a6" stroke="#000" stroke-width="1.85"/>
<circle cx="690.8" cy="116.9" r="7.15" fill="#a6a6a6" stroke="#000" stroke-width="1.85"/>
<circle cx="685.7" cy="112.2" r="7.15" fill="#a6a6a6" stroke="#000" stroke-width="1.85"/>
<circle cx="683.4" cy="130.6" r="7.15" fill="#a6a6a6" stroke="#000" stroke-width="1.85"/>
<circle cx="674.4" cy="147" r="7.15" fill="#a6a6a6" stroke="#000" stroke-width="1.85"/>
<circle cx="682.9" cy="145.3" r="7.15" fill="#a6a6a6" stroke="#000" stroke-width="1.85"/>
<circle cx="692.5" cy="147" r="7.15" fill="#a6a6a6" stroke="#000" stroke-width="1.85"/>
<circle cx="678.4" cy="140.2" r="7.15" fill="#a6a6a6" stroke="#000" stroke-width="1.85"/>
<circle cx="687.4" cy="141.3" r="7.15" fill="#a6a6a6" stroke="#000" stroke-width="1.85"/>
<circle cx="683.4" cy="166.7" r="7.15" fill="#a6a6a6" stroke="#000" stroke-width="1.85"/>
<line x1="715.25" y1="276" x2="746.85" y2="276" stroke="#000" stroke-width="2"/>
<circle cx="722.8" cy="273.7" r="7.15" fill="#f22800" stroke="#000" stroke-width="1.85"/>
<circle cx="728.3" cy="272.9" r="7.15" fill="#f22800" stroke="#000" stroke-width="1.85"/>
<circle cx="740.4" cy="273.3" r="7.15" fill="#f22800" stroke="#000" stroke-width="1.85"/>
<circle cx="733.8" cy="276.5" r="7.15" fill="#f22800" stroke="#000" stroke-width="1.85"/>
<circle cx="728.3" cy="289.8" r="7.15" fill="#f22800" stroke="#000" stroke-width="1.85"/>
<line x1="763.1" y1="289.8" x2="794.7" y2="289.8" stroke="#000" stroke-width="2"/>
<circle cx="779.1" cy="278" r="7.15" fill="#0a8cf0" stroke="#000" stroke-width="1.85"/>
<circle cx="770.2" cy="284.3" r="7.15" fill="#0a8cf0" stroke="#000" stroke-width="1.85"/>
<circle cx="788" cy="289.8" r="7.15" fill="#0a8cf0" stroke="#000" stroke-width="1.85"/>
<circle cx="774.5" cy="312.4" r="7.15" fill="#0a8cf0" stroke="#000" stroke-width="1.85"/>
<circle cx="783.4" cy="312.4" r="7.15" fill="#0a8cf0" stroke="#000" stroke-width="1.85"/>
<line x1="810.95" y1="292" x2="842.55" y2="292" stroke="#000" stroke-width="2"/>
<circle cx="817.8" cy="289.7" r="7.15" fill="#72d29e" stroke="#000" stroke-width="1.85"/>
<circle cx="830.2" cy="304.5" r="7.15" fill="#72d29e" stroke="#000" stroke-width="1.85"/>
<circle cx="829.5" cy="277.3" r="7.15" fill="#72d29e" stroke="#000" stroke-width="1.85"/>
<circle cx="823.8" cy="292.1" r="7.15" fill="#72d29e" stroke="#000" stroke-width="1.85"/>
<circle cx="835.6" cy="294.1" r="7.15" fill="#72d29e" stroke="#000" stroke-width="1.85"/>
<circle cx="818.3" cy="305.5" r="7.15" fill="#72d29e" stroke="#000" stroke-width="1.85"/>
<line x1="858.8" y1="306" x2="890.4" y2="306" stroke="#000" stroke-width="2"/>
<circle cx="871.3" cy="284.2" r="7.15" fill="#9236f6" stroke="#000" stroke-width="1.85"/>
<circle cx="877.6" cy="279.8" r="7.15" fill="#9236f6" stroke="#000" stroke-width="1.85"/>
<circle cx="871.9" cy="299.7" r="7.15" fill="#9236f6" stroke="#000" stroke-width="1.85"/>
<circle cx="865.7" cy="312.4" r="7.15" fill="#9236f6" stroke="#000" stroke-width="1.85"/>
<circle cx="877.6" cy="312.4" r="7.15" fill="#9236f6" stroke="#000" stroke-width="1.85"/>
<circle cx="883.5" cy="312.4" r="7.15" fill="#9236f6" stroke="#000" stroke-width="1.85"/>
<line x1="906.65" y1="270" x2="938.25" y2="270" stroke="#000" stroke-width="2"/>
<circle cx="922.5" cy="243.3" r="7.15" fill="#fdd57e" stroke="#000" stroke-width="1.85"/>
<circle cx="931.4" cy="256.4" r="7.15" fill="#fdd57e" stroke="#000" stroke-width="1.85"/>
<circle cx="914.1" cy="268.9" r="7.15" fill="#fdd57e" stroke="#000" stroke-width="1.85"/>
<circle cx="931.9" cy="273.9" r="7.15" fill="#fdd57e" stroke="#000" stroke-width="1.85"/>
<circle cx="922.5" cy="277.1" r="7.15" fill="#fdd57e" stroke="#000" stroke-width="1.85"/>
<circle cx="922.5" cy="298.8" r="7.15" fill="#fdd57e" stroke="#000" stroke-width="1.85"/>
<path d="M734.6 112.8L728.6 112.8M734.6 112.8L732.75 107.09M734.6 112.8L739.45 109.27M734.6 112.8L739.45 116.33M734.6 112.8L732.75 118.51" stroke="#000" stroke-width="2" fill="none"/>
<path d="M734.6 99.3L728.6 99.3M734.6 99.3L732.75 93.59M734.6 99.3L739.45 95.77M734.6 99.3L739.45 102.83M734.6 99.3L732.75 105.01" stroke="#000" stroke-width="2" fill="none"/>
<path d="M734.6 85.8L728.6 85.8M734.6 85.8L732.75 80.09M734.6 85.8L739.45 82.27M734.6 85.8L739.45 89.33M734.6 85.8L732.75 91.51" stroke="#000" stroke-width="2" fill="none"/>
<path d="M734.6 72.3L728.6 72.3M734.6 72.3L732.75 66.59M734.6 72.3L739.45 68.77M734.6 72.3L739.45 75.83M734.6 72.3L732.75 78.01" stroke="#000" stroke-width="2" fill="none"/>
<path d="M782.1 112.8L776.1 112.8M782.1 112.8L780.25 107.09M782.1 112.8L786.95 109.27M782.1 112.8L786.95 116.33M782.1 112.8L780.25 118.51" stroke="#000" stroke-width="2" fill="none"/>
<path d="M782.1 99.3L776.1 99.3M782.1 99.3L780.25 93.59M782.1 99.3L786.95 95.77M782.1 99.3L786.95 102.83M782.1 99.3L780.25 105.01" stroke="#000" stroke-width="2" fill="none"/>
<path d="M782.1 85.8L776.1 85.8M782.1 85.8L780.25 80.09M782.1 85.8L786.95 82.27M782.1 85.8L786.95 89.33M782.1 85.8L780.25 91.51" stroke="#000" stroke-width="2" fill="none"/>
<path d="M782.1 72.3L776.1 72.3M782.1 72.3L780.25 66.59M782.1 72.3L786.95 68.77M782.1 72.3L786.95 75.83M782.1 72.3L780.25 78.01" stroke="#000" stroke-width="2" fill="none"/>
<path d="M829.4 112.8L823.4 112.8M829.4 112.8L827.55 107.09M829.4 112.8L834.25 109.27M829.4 112.8L834.25 116.33M829.4 112.8L827.55 118.51" stroke="#000" stroke-width="2" fill="none"/>
<path d="M829.4 99.3L823.4 99.3M829.4 99.3L827.55 93.59M829.4 99.3L834.25 95.77M829.4 99.3L834.25 102.83M829.4 99.3L827.55 105.01" stroke="#000" stroke-width="2" fill="none"/>
<path d="M829.4 85.8L823.4 85.8M829.4 85.8L827.55 80.09M829.4 85.8L834.25 82.27M829.4 85.8L834.25 89.33M829.4 85.8L827.55 91.51" stroke="#000" stroke-width="2" fill="none"/>
<path d="M829.4 72.3L823.4 72.3M829.4 72.3L827.55 66.59M829.4 72.3L834.25 68.77M829.4 72.3L834.25 75.83M829.4 72.3L827.55 78.01" stroke="#000" stroke-width="2" fill="none"/>
<path d="M876.8 112.8L870.8 112.8M876.8 112.8L874.95 107.09M876.8 112.8L881.65 109.27M876.8 112.8L881.65 116.33M876.8 112.8L874.95 118.51" stroke="#000" stroke-width="2" fill="none"/>
<path d="M876.8 99.3L870.8 99.3M876.8 99.3L874.95 93.59M876.8 99.3L881.65 95.77M876.8 99.3L881.65 102.83M876.8 99.3L874.95 105.01" stroke="#000" stroke-width="2" fill="none"/>
<path d="M876.8 85.8L870.8 85.8M876.8 85.8L874.95 80.09M876.8 85.8L881.65 82.27M876.8 85.8L881.65 89.33M876.8 85.8L874.95 91.51" stroke="#000" stroke-width="2" fill="none"/>
<path d="M876.8 72.3L870.8 72.3M876.8 72.3L874.95 66.59M876.8 72.3L881.65 68.77M876.8 72.3L881.65 75.83M876.8 72.3L874.95 78.01" stroke="#000" stroke-width="2" fill="none"/>
<path d="M923.2 112.8L917.2 112.8M923.2 112.8L921.35 107.09M923.2 112.8L928.05 109.27M923.2 112.8L928.05 116.33M923.2 112.8L921.35 118.51" stroke="#000" stroke-width="2" fill="none"/>
<path d="M923.2 99.3L917.2 99.3M923.2 99.3L921.35 93.59M923.2 99.3L928.05 95.77M923.2 99.3L928.05 102.83M923.2 99.3L921.35 105.01" stroke="#000" stroke-width="2" fill="none"/>
<path d="M923.2 85.8L917.2 85.8M923.2 85.8L921.35 80.09M923.2 85.8L928.05 82.27M923.2 85.8L928.05 89.33M923.2 85.8L921.35 91.51" stroke="#000" stroke-width="2" fill="none"/>
<path d="M923.2 72.3L917.2 72.3M923.2 72.3L921.35 66.59M923.2 72.3L928.05 68.77M923.2 72.3L928.05 75.83M923.2 72.3L921.35 78.01" stroke="#000" stroke-width="2" fill="none"/>
<line x1="1113" y1="63.65" x2="1113" y2="366.9" stroke="#000" stroke-width="2.9"/>
<line x1="1102.5" y1="366.9" x2="1414.9" y2="366.9" stroke="#000" stroke-width="2.9"/>
<line x1="1102.5" y1="366.9" x2="1113" y2="366.9" stroke="#000" stroke-width="2.9"/>
<text transform="translate(1081.72 375.6) scale(0.9700 1)" font-size="29.5">2</text>
<line x1="1102.5" y1="329.17" x2="1113" y2="329.17" stroke="#000" stroke-width="2.9"/>
<text transform="translate(1081.54 337.87) scale(0.9700 1)" font-size="29.5">3</text>
<line x1="1102.5" y1="291.45" x2="1113" y2="291.45" stroke="#000" stroke-width="2.9"/>
<text transform="translate(1081.12 300.15) scale(0.9700 1)" font-size="29.5">4</text>
<line x1="1102.5" y1="253.72" x2="1113" y2="253.72" stroke="#000" stroke-width="2.9"/>
<text transform="translate(1081.49 262.43) scale(0.9700 1)" font-size="29.5">5</text>
<line x1="1102.5" y1="216" x2="1113" y2="216" stroke="#000" stroke-width="2.9"/>
<text transform="translate(1081.54 224.7) scale(0.9700 1)" font-size="29.5">6</text>
<line x1="1102.5" y1="178.28" x2="1113" y2="178.28" stroke="#000" stroke-width="2.9"/>
<text transform="translate(1081.72 186.97) scale(0.9700 1)" font-size="29.5">7</text>
<line x1="1102.5" y1="140.55" x2="1113" y2="140.55" stroke="#000" stroke-width="2.9"/>
<text transform="translate(1081.53 149.25) scale(0.9700 1)" font-size="29.5">8</text>
<line x1="1102.5" y1="102.83" x2="1113" y2="102.83" stroke="#000" stroke-width="2.9"/>
<text transform="translate(1081.64 111.53) scale(0.9700 1)" font-size="29.5">9</text>
<line x1="1102.5" y1="65.1" x2="1113" y2="65.1" stroke="#000" stroke-width="2.9"/>
<text transform="translate(1065.49 73.8) scale(0.9700 1)" font-size="29.5">10</text>
<line x1="1117" y1="319" x2="1414.9" y2="319" stroke="#000" stroke-width="2.1" stroke-dasharray="2.1 2.74"/>
<text transform="translate(1197.88 409.9) scale(0.9432 1)" font-size="30">Nasal wash</text>
<text transform="translate(1049.9 388.54) rotate(-90) scale(0.9607 1)" font-size="30">log<tspan font-size="21" dy="9.3">10</tspan><tspan dy="-9.3">(</tspan><tspan font-style="italic">N</tspan> gene copies per ml)</text>
<text transform="translate(997.03 23.8) scale(1.1606 1)" font-size="32.5" font-weight="bold" fill="#222">c</text>
<line x1="1128.5" y1="209.8" x2="1160.1" y2="209.8" stroke="#000" stroke-width="2"/>
<circle cx="1144.7" cy="177.2" r="7.15" fill="#a6a6a6" stroke="#000" stroke-width="1.85"/>
<circle cx="1153.1" cy="167.6" r="7.15" fill="#a6a6a6" stroke="#000" stroke-width="1.85"/>
<circle cx="1135.8" cy="179.1" r="7.15" fill="#a6a6a6" stroke="#000" stroke-width="1.85"/>
<circle cx="1153.1" cy="204.3" r="7.15" fill="#a6a6a6" stroke="#000" stroke-width="1.85"/>
<circle cx="1144.5" cy="210.8" r="7.15" fill="#a6a6a6" stroke="#000" stroke-width="1.85"/>
<circle cx="1135.8" cy="226.3" r="7.15" fill="#a6a6a6" stroke="#000" stroke-width="1.85"/>
<circle cx="1144.5" cy="236.8" r="7.15" fill="#a6a6a6" stroke="#000" stroke-width="1.85"/>
<circle cx="1153.1" cy="233.5" r="7.15" fill="#a6a6a6" stroke="#000" stroke-width="1.85"/>
<circle cx="1144.5" cy="253.8" r="7.15" fill="#a6a6a6" stroke="#000" stroke-width="1.85"/>
<line x1="1176.3" y1="293.3" x2="1207.9" y2="293.3" stroke="#000" stroke-width="2"/>
<circle cx="1201" cy="297.7" r="7.15" fill="#f22800" stroke="#000" stroke-width="1.85"/>
<circle cx="1195.1" cy="298.2" r="7.15" fill="#f22800" stroke="#000" stroke-width="1.85"/>
<circle cx="1183.7" cy="277.5" r="7.15" fill="#f22800" stroke="#000" stroke-width="1.85"/>
<circle cx="1189.7" cy="289.8" r="7.15" fill="#f22800" stroke="#000" stroke-width="1.85"/>
<circle cx="1183.7" cy="304.6" r="7.15" fill="#f22800" stroke="#000" stroke-width="1.85"/>
<line x1="1224.1" y1="290.3" x2="1255.7" y2="290.3" stroke="#000" stroke-width="2"/>
<circle cx="1231.5" cy="259.7" r="7.15" fill="#0a8cf0" stroke="#000" stroke-width="1.85"/>
<circle cx="1248.5" cy="272.3" r="7.15" fill="#0a8cf0" stroke="#000" stroke-width="1.85"/>
<circle cx="1231.5" cy="281.2" r="7.15" fill="#0a8cf0" stroke="#000" stroke-width="1.85"/>
<circle cx="1231.5" cy="319" r="7.15" fill="#0a8cf0" stroke="#000" stroke-width="1.85"/>
<circle cx="1248.5" cy="319" r="7.15" fill="#0a8cf0" stroke="#000" stroke-width="1.85"/>
<line x1="1271.9" y1="253.2" x2="1303.5" y2="253.2" stroke="#000" stroke-width="2"/>
<circle cx="1279" cy="205.2" r="7.15" fill="#72d29e" stroke="#000" stroke-width="1.85"/>
<circle cx="1296.2" cy="203.8" r="7.15" fill="#72d29e" stroke="#000" stroke-width="1.85"/>
<circle cx="1287.5" cy="247.2" r="7.15" fill="#72d29e" stroke="#000" stroke-width="1.85"/>
<circle cx="1279" cy="279.4" r="7.15" fill="#72d29e" stroke="#000" stroke-width="1.85"/>
<circle cx="1296.2" cy="284.7" r="7.15" fill="#72d29e" stroke="#000" stroke-width="1.85"/>
<circle cx="1287.5" cy="299.5" r="7.15" fill="#72d29e" stroke="#000" stroke-width="1.85"/>
<line x1="1319.7" y1="277.1" x2="1351.3" y2="277.1" stroke="#000" stroke-width="2"/>
<circle cx="1335.3" cy="240.5" r="7.15" fill="#9236f6" stroke="#000" stroke-width="1.85"/>
<circle cx="1326.9" cy="262.3" r="7.15" fill="#9236f6" stroke="#000" stroke-width="1.85"/>
<circle cx="1344.1" cy="269.1" r="7.15" fill="#9236f6" stroke="#000" stroke-width="1.85"/>
<circle cx="1326.9" cy="286.1" r="7.15" fill="#9236f6" stroke="#000" stroke-width="1.85"/>
<circle cx="1344.1" cy="287.4" r="7.15" fill="#9236f6" stroke="#000" stroke-width="1.85"/>
<circle cx="1335.3" cy="318.8" r="7.15" fill="#9236f6" stroke="#000" stroke-width="1.85"/>
<line x1="1367.5" y1="277.9" x2="1399.1" y2="277.9" stroke="#000" stroke-width="2"/>
<circle cx="1374.6" cy="254.9" r="7.15" fill="#fdd57e" stroke="#000" stroke-width="1.85"/>
<circle cx="1391.7" cy="265.7" r="7.15" fill="#fdd57e" stroke="#000" stroke-width="1.85"/>
<circle cx="1374.6" cy="274.5" r="7.15" fill="#fdd57e" stroke="#000" stroke-width="1.85"/>
<circle cx="1383" cy="284.5" r="7.15" fill="#fdd57e" stroke="#000" stroke-width="1.85"/>
<circle cx="1391.7" cy="287.1" r="7.15" fill="#fdd57e" stroke="#000" stroke-width="1.85"/>
<circle cx="1374.6" cy="299.8" r="7.15" fill="#fdd57e" stroke="#000" stroke-width="1.85"/>
<path d="M1194.7 113.2L1188.7 113.2M1194.7 113.2L1192.85 107.49M1194.7 113.2L1199.55 109.67M1194.7 113.2L1199.55 116.73M1194.7 113.2L1192.85 118.91" stroke="#000" stroke-width="2" fill="none"/>
<path d="M1194.7 99.7L1188.7 99.7M1194.7 99.7L1192.85 93.99M1194.7 99.7L1199.55 96.17M1194.7 99.7L1199.55 103.23M1194.7 99.7L1192.85 105.41" stroke="#000" stroke-width="2" fill="none"/>
<path d="M1194.7 86.2L1188.7 86.2M1194.7 86.2L1192.85 80.49M1194.7 86.2L1199.55 82.67M1194.7 86.2L1199.55 89.73M1194.7 86.2L1192.85 91.91" stroke="#000" stroke-width="2" fill="none"/>
<path d="M1194.7 72.7L1188.7 72.7M1194.7 72.7L1192.85 66.99M1194.7 72.7L1199.55 69.17M1194.7 72.7L1199.55 76.23M1194.7 72.7L1192.85 78.41" stroke="#000" stroke-width="2" fill="none"/>
<path d="M1242.8 113.2L1236.8 113.2M1242.8 113.2L1240.95 107.49M1242.8 113.2L1247.65 109.67M1242.8 113.2L1247.65 116.73M1242.8 113.2L1240.95 118.91" stroke="#000" stroke-width="2" fill="none"/>
<path d="M1242.8 99.7L1236.8 99.7M1242.8 99.7L1240.95 93.99M1242.8 99.7L1247.65 96.17M1242.8 99.7L1247.65 103.23M1242.8 99.7L1240.95 105.41" stroke="#000" stroke-width="2" fill="none"/>
<path d="M1242.8 86.2L1236.8 86.2M1242.8 86.2L1240.95 80.49M1242.8 86.2L1247.65 82.67M1242.8 86.2L1247.65 89.73M1242.8 86.2L1240.95 91.91" stroke="#000" stroke-width="2" fill="none"/>
<path d="M1242.8 72.7L1236.8 72.7M1242.8 72.7L1240.95 66.99M1242.8 72.7L1247.65 69.17M1242.8 72.7L1247.65 76.23M1242.8 72.7L1240.95 78.41" stroke="#000" stroke-width="2" fill="none"/>
<path d="M1289.4 113.2L1283.4 113.2M1289.4 113.2L1287.55 107.49M1289.4 113.2L1294.25 109.67M1289.4 113.2L1294.25 116.73M1289.4 113.2L1287.55 118.91" stroke="#000" stroke-width="2" fill="none"/>
<path d="M1338.3 113.2L1332.3 113.2M1338.3 113.2L1336.45 107.49M1338.3 113.2L1343.15 109.67M1338.3 113.2L1343.15 116.73M1338.3 113.2L1336.45 118.91" stroke="#000" stroke-width="2" fill="none"/>
<path d="M1338.3 99.7L1332.3 99.7M1338.3 99.7L1336.45 93.99M1338.3 99.7L1343.15 96.17M1338.3 99.7L1343.15 103.23M1338.3 99.7L1336.45 105.41" stroke="#000" stroke-width="2" fill="none"/>
<path d="M1338.3 86.2L1332.3 86.2M1338.3 86.2L1336.45 80.49M1338.3 86.2L1343.15 82.67M1338.3 86.2L1343.15 89.73M1338.3 86.2L1336.45 91.91" stroke="#000" stroke-width="2" fill="none"/>
<path d="M1385.6 113.2L1379.6 113.2M1385.6 113.2L1383.75 107.49M1385.6 113.2L1390.45 109.67M1385.6 113.2L1390.45 116.73M1385.6 113.2L1383.75 118.91" stroke="#000" stroke-width="2" fill="none"/>
<path d="M1385.6 99.7L1379.6 99.7M1385.6 99.7L1383.75 93.99M1385.6 99.7L1390.45 96.17M1385.6 99.7L1390.45 103.23M1385.6 99.7L1383.75 105.41" stroke="#000" stroke-width="2" fill="none"/>
<path d="M1385.6 86.2L1379.6 86.2M1385.6 86.2L1383.75 80.49M1385.6 86.2L1390.45 82.67M1385.6 86.2L1390.45 89.73M1385.6 86.2L1383.75 91.91" stroke="#000" stroke-width="2" fill="none"/>
<line x1="651.9" y1="518.15" x2="651.9" y2="822.5" stroke="#000" stroke-width="2.9"/>
<line x1="641.4" y1="822.5" x2="954.6" y2="822.5" stroke="#000" stroke-width="2.9"/>
<line x1="641.4" y1="822.5" x2="651.9" y2="822.5" stroke="#000" stroke-width="2.9"/>
<text transform="translate(617.3 831.2) scale(0.9700 1)" font-size="29.5">0</text>
<line x1="641.4" y1="792.21" x2="651.9" y2="792.21" stroke="#000" stroke-width="2.9"/>
<text transform="translate(617.58 800.91) scale(0.9700 1)" font-size="29.5">1</text>
<line x1="641.4" y1="761.92" x2="651.9" y2="761.92" stroke="#000" stroke-width="2.9"/>
<text transform="translate(617.62 770.62) scale(0.9700 1)" font-size="29.5">2</text>
<line x1="641.4" y1="731.63" x2="651.9" y2="731.63" stroke="#000" stroke-width="2.9"/>
<text transform="translate(617.44 740.33) scale(0.9700 1)" font-size="29.5">3</text>
<line x1="641.4" y1="701.34" x2="651.9" y2="701.34" stroke="#000" stroke-width="2.9"/>
<text transform="translate(617.02 710.04) scale(0.9700 1)" font-size="29.5">4</text>
<line x1="641.4" y1="671.05" x2="651.9" y2="671.05" stroke="#000" stroke-width="2.9"/>
<text transform="translate(617.39 679.75) scale(0.9700 1)" font-size="29.5">5</text>
<line x1="641.4" y1="640.76" x2="651.9" y2="640.76" stroke="#000" stroke-width="2.9"/>
<text transform="translate(617.44 649.46) scale(0.9700 1)" font-size="29.5">6</text>
<line x1="641.4" y1="610.47" x2="651.9" y2="610.47" stroke="#000" stroke-width="2.9"/>
<text transform="translate(617.62 619.17) scale(0.9700 1)" font-size="29.5">7</text>
<line x1="641.4" y1="580.18" x2="651.9" y2="580.18" stroke="#000" stroke-width="2.9"/>
<text transform="translate(617.43 588.88) scale(0.9700 1)" font-size="29.5">8</text>
<line x1="641.4" y1="549.89" x2="651.9" y2="549.89" stroke="#000" stroke-width="2.9"/>
<text transform="translate(617.54 558.59) scale(0.9700 1)" font-size="29.5">9</text>
<line x1="641.4" y1="519.6" x2="651.9" y2="519.6" stroke="#000" stroke-width="2.9"/>
<text transform="translate(601.39 528.3) scale(0.9700 1)" font-size="29.5">10</text>
<line x1="655.9" y1="768.2" x2="954.6" y2="768.2" stroke="#000" stroke-width="2.1" stroke-dasharray="2.1 2.74"/>
<text transform="translate(771.61 863.6) scale(0.9720 1)" font-size="30">Lung</text>
<text transform="translate(574 841.57) rotate(-90) scale(0.9740 1)" font-size="30">log<tspan font-size="21" dy="9.3">10</tspan><tspan dy="-9.3">(</tspan><tspan font-style="italic">N</tspan> gene copies per mg)</text>
<text transform="translate(515.79 474.1) scale(1.1915 1)" font-size="32.5" font-weight="bold" fill="#222">e</text>
<line x1="667.5" y1="575.2" x2="699.1" y2="575.2" stroke="#000" stroke-width="2"/>
<circle cx="674.3" cy="561.8" r="7.15" fill="#a6a6a6" stroke="#000" stroke-width="1.85"/>
<circle cx="695" cy="564.8" r="7.15" fill="#a6a6a6" stroke="#000" stroke-width="1.85"/>
<circle cx="693.1" cy="564.8" r="7.15" fill="#a6a6a6" stroke="#000" stroke-width="1.85"/>
<circle cx="684.2" cy="566.3" r="7.15" fill="#a6a6a6" stroke="#000" stroke-width="1.85"/>
<circle cx="683.4" cy="557.4" r="7.15" fill="#a6a6a6" stroke="#000" stroke-width="1.85"/>
<circle cx="674.6" cy="574.9" r="7.15" fill="#a6a6a6" stroke="#000" stroke-width="1.85"/>
<circle cx="681.7" cy="584.6" r="7.15" fill="#a6a6a6" stroke="#000" stroke-width="1.85"/>
<circle cx="685.2" cy="583.1" r="7.15" fill="#a6a6a6" stroke="#000" stroke-width="1.85"/>
<circle cx="681.7" cy="605.8" r="7.15" fill="#a6a6a6" stroke="#000" stroke-width="1.85"/>
<circle cx="685.2" cy="603.3" r="7.15" fill="#a6a6a6" stroke="#000" stroke-width="1.85"/>
<line x1="715.35" y1="717.8" x2="746.95" y2="717.8" stroke="#000" stroke-width="2"/>
<circle cx="722.4" cy="710.7" r="7.15" fill="#f22800" stroke="#000" stroke-width="1.85"/>
<circle cx="739.9" cy="703.1" r="7.15" fill="#f22800" stroke="#000" stroke-width="1.85"/>
<circle cx="727.9" cy="717.9" r="7.15" fill="#f22800" stroke="#000" stroke-width="1.85"/>
<circle cx="740.2" cy="720.9" r="7.15" fill="#f22800" stroke="#000" stroke-width="1.85"/>
<circle cx="733.8" cy="714.1" r="7.15" fill="#f22800" stroke="#000" stroke-width="1.85"/>
<circle cx="731.1" cy="738.7" r="7.15" fill="#f22800" stroke="#000" stroke-width="1.85"/>
<line x1="763.2" y1="711" x2="794.8" y2="711" stroke="#000" stroke-width="2"/>
<circle cx="769" cy="705.2" r="7.15" fill="#0a8cf0" stroke="#000" stroke-width="1.85"/>
<circle cx="788.4" cy="703.1" r="7.15" fill="#0a8cf0" stroke="#000" stroke-width="1.85"/>
<circle cx="776.2" cy="701" r="7.15" fill="#0a8cf0" stroke="#000" stroke-width="1.85"/>
<circle cx="779.1" cy="715" r="7.15" fill="#0a8cf0" stroke="#000" stroke-width="1.85"/>
<circle cx="779.1" cy="736.5" r="7.15" fill="#0a8cf0" stroke="#000" stroke-width="1.85"/>
<line x1="811.05" y1="761.1" x2="842.65" y2="761.1" stroke="#000" stroke-width="2"/>
<circle cx="826.9" cy="741.8" r="7.15" fill="#72d29e" stroke="#000" stroke-width="1.85"/>
<circle cx="818.3" cy="768.2" r="7.15" fill="#72d29e" stroke="#000" stroke-width="1.85"/>
<circle cx="835.6" cy="768.2" r="7.15" fill="#72d29e" stroke="#000" stroke-width="1.85"/>
<circle cx="822.8" cy="761.8" r="7.15" fill="#72d29e" stroke="#000" stroke-width="1.85"/>
<circle cx="831.2" cy="761.8" r="7.15" fill="#72d29e" stroke="#000" stroke-width="1.85"/>
<circle cx="826.9" cy="764.1" r="7.15" fill="#72d29e" stroke="#000" stroke-width="1.85"/>
<line x1="858.9" y1="764" x2="890.5" y2="764" stroke="#000" stroke-width="2"/>
<circle cx="866.2" cy="768.7" r="7.15" fill="#9236f6" stroke="#000" stroke-width="1.85"/>
<circle cx="883.5" cy="768.7" r="7.15" fill="#9236f6" stroke="#000" stroke-width="1.85"/>
<circle cx="879.5" cy="761.3" r="7.15" fill="#9236f6" stroke="#000" stroke-width="1.85"/>
<circle cx="870.4" cy="759.4" r="7.15" fill="#9236f6" stroke="#000" stroke-width="1.85"/>
<line x1="906.75" y1="744.4" x2="938.35" y2="744.4" stroke="#000" stroke-width="2"/>
<circle cx="932.9" cy="748" r="7.15" fill="#fdd57e" stroke="#000" stroke-width="1.85"/>
<circle cx="925.9" cy="753.9" r="7.15" fill="#fdd57e" stroke="#000" stroke-width="1.85"/>
<circle cx="913.8" cy="734.7" r="7.15" fill="#fdd57e" stroke="#000" stroke-width="1.85"/>
<circle cx="919.7" cy="725.6" r="7.15" fill="#fdd57e" stroke="#000" stroke-width="1.85"/>
<circle cx="919.5" cy="747.3" r="7.15" fill="#fdd57e" stroke="#000" stroke-width="1.85"/>
<circle cx="913.6" cy="758.4" r="7.15" fill="#fdd57e" stroke="#000" stroke-width="1.85"/>
<path d="M734.1 542L728.1 542M734.1 542L732.25 536.29M734.1 542L738.95 538.47M734.1 542L738.95 545.53M734.1 542L732.25 547.71" stroke="#000" stroke-width="2" fill="none"/>
<path d="M734.1 528.5L728.1 528.5M734.1 528.5L732.25 522.79M734.1 528.5L738.95 524.97M734.1 528.5L738.95 532.03M734.1 528.5L732.25 534.21" stroke="#000" stroke-width="2" fill="none"/>
<path d="M734.1 515L728.1 515M734.1 515L732.25 509.29M734.1 515L738.95 511.47M734.1 515L738.95 518.53M734.1 515L732.25 520.71" stroke="#000" stroke-width="2" fill="none"/>
<path d="M734.1 501.5L728.1 501.5M734.1 501.5L732.25 495.79M734.1 501.5L738.95 497.97M734.1 501.5L738.95 505.03M734.1 501.5L732.25 507.21" stroke="#000" stroke-width="2" fill="none"/>
<path d="M782.2 542L776.2 542M782.2 542L780.35 536.29M782.2 542L787.05 538.47M782.2 542L787.05 545.53M782.2 542L780.35 547.71" stroke="#000" stroke-width="2" fill="none"/>
<path d="M782.2 528.5L776.2 528.5M782.2 528.5L780.35 522.79M782.2 528.5L787.05 524.97M782.2 528.5L787.05 532.03M782.2 528.5L780.35 534.21" stroke="#000" stroke-width="2" fill="none"/>
<path d="M782.2 515L776.2 515M782.2 515L780.35 509.29M782.2 515L787.05 511.47M782.2 515L787.05 518.53M782.2 515L780.35 520.71" stroke="#000" stroke-width="2" fill="none"/>
<path d="M782.2 501.5L776.2 501.5M782.2 501.5L780.35 495.79M782.2 501.5L787.05 497.97M782.2 501.5L787.05 505.03M782.2 501.5L780.35 507.21" stroke="#000" stroke-width="2" fill="none"/>
<path d="M830 542L824 542M830 542L828.15 536.29M830 542L834.85 538.47M830 542L834.85 545.53M830 542L828.15 547.71" stroke="#000" stroke-width="2" fill="none"/>
<path d="M830 528.5L824 528.5M830 528.5L828.15 522.79M830 528.5L834.85 524.97M830 528.5L834.85 532.03M830 528.5L828.15 534.21" stroke="#000" stroke-width="2" fill="none"/>
<path d="M830 515L824 515M830 515L828.15 509.29M830 515L834.85 511.47M830 515L834.85 518.53M830 515L828.15 520.71" stroke="#000" stroke-width="2" fill="none"/>
<path d="M830 501.5L824 501.5M830 501.5L828.15 495.79M830 501.5L834.85 497.97M830 501.5L834.85 505.03M830 501.5L828.15 507.21" stroke="#000" stroke-width="2" fill="none"/>
<path d="M877.6 542L871.6 542M877.6 542L875.75 536.29M877.6 542L882.45 538.47M877.6 542L882.45 545.53M877.6 542L875.75 547.71" stroke="#000" stroke-width="2" fill="none"/>
<path d="M877.6 528.5L871.6 528.5M877.6 528.5L875.75 522.79M877.6 528.5L882.45 524.97M877.6 528.5L882.45 532.03M877.6 528.5L875.75 534.21" stroke="#000" stroke-width="2" fill="none"/>
<path d="M877.6 515L871.6 515M877.6 515L875.75 509.29M877.6 515L882.45 511.47M877.6 515L882.45 518.53M877.6 515L875.75 520.71" stroke="#000" stroke-width="2" fill="none"/>
<path d="M877.6 501.5L871.6 501.5M877.6 501.5L875.75 495.79M877.6 501.5L882.45 497.97M877.6 501.5L882.45 505.03M877.6 501.5L875.75 507.21" stroke="#000" stroke-width="2" fill="none"/>
<path d="M923.1 542L917.1 542M923.1 542L921.25 536.29M923.1 542L927.95 538.47M923.1 542L927.95 545.53M923.1 542L921.25 547.71" stroke="#000" stroke-width="2" fill="none"/>
<path d="M923.1 528.5L917.1 528.5M923.1 528.5L921.25 522.79M923.1 528.5L927.95 524.97M923.1 528.5L927.95 532.03M923.1 528.5L921.25 534.21" stroke="#000" stroke-width="2" fill="none"/>
<path d="M923.1 515L917.1 515M923.1 515L921.25 509.29M923.1 515L927.95 511.47M923.1 515L927.95 518.53M923.1 515L921.25 520.71" stroke="#000" stroke-width="2" fill="none"/>
<path d="M923.1 501.5L917.1 501.5M923.1 501.5L921.25 495.79M923.1 501.5L927.95 497.97M923.1 501.5L927.95 505.03M923.1 501.5L921.25 507.21" stroke="#000" stroke-width="2" fill="none"/>
<line x1="1113" y1="519.2" x2="1113" y2="823" stroke="#000" stroke-width="2.9"/>
<line x1="1102.5" y1="823" x2="1414.9" y2="823" stroke="#000" stroke-width="2.9"/>
<line x1="1102.5" y1="823" x2="1113" y2="823" stroke="#000" stroke-width="2.9"/>
<text transform="translate(1081.72 831.7) scale(0.9700 1)" font-size="29.5">2</text>
<line x1="1102.5" y1="785.21" x2="1113" y2="785.21" stroke="#000" stroke-width="2.9"/>
<text transform="translate(1081.54 793.91) scale(0.9700 1)" font-size="29.5">3</text>
<line x1="1102.5" y1="747.41" x2="1113" y2="747.41" stroke="#000" stroke-width="2.9"/>
<text transform="translate(1081.12 756.11) scale(0.9700 1)" font-size="29.5">4</text>
<line x1="1102.5" y1="709.62" x2="1113" y2="709.62" stroke="#000" stroke-width="2.9"/>
<text transform="translate(1081.49 718.32) scale(0.9700 1)" font-size="29.5">5</text>
<line x1="1102.5" y1="671.83" x2="1113" y2="671.83" stroke="#000" stroke-width="2.9"/>
<text transform="translate(1081.54 680.53) scale(0.9700 1)" font-size="29.5">6</text>
<line x1="1102.5" y1="634.03" x2="1113" y2="634.03" stroke="#000" stroke-width="2.9"/>
<text transform="translate(1081.72 642.73) scale(0.9700 1)" font-size="29.5">7</text>
<line x1="1102.5" y1="596.24" x2="1113" y2="596.24" stroke="#000" stroke-width="2.9"/>
<text transform="translate(1081.53 604.94) scale(0.9700 1)" font-size="29.5">8</text>
<line x1="1102.5" y1="558.44" x2="1113" y2="558.44" stroke="#000" stroke-width="2.9"/>
<text transform="translate(1081.64 567.14) scale(0.9700 1)" font-size="29.5">9</text>
<line x1="1102.5" y1="520.65" x2="1113" y2="520.65" stroke="#000" stroke-width="2.9"/>
<text transform="translate(1065.49 529.35) scale(0.9700 1)" font-size="29.5">10</text>
<line x1="1117" y1="774.9" x2="1414.9" y2="774.9" stroke="#000" stroke-width="2.1" stroke-dasharray="2.1 2.74"/>
<text transform="translate(1195.56 865.2) scale(0.9512 1)" font-size="30">Nasal wash</text>
<text transform="translate(1050.3 859.94) rotate(-90) scale(0.9577 1)" font-size="30">log<tspan font-size="21" dy="9.3">10</tspan><tspan dy="-9.3">(</tspan><tspan font-style="italic">N</tspan> gene copies per ml)</text>
<text transform="translate(997.23 474.1) scale(1.2003 1)" font-size="32.5" font-weight="bold" fill="#222">f</text>
<line x1="1128.5" y1="654.7" x2="1160.1" y2="654.7" stroke="#000" stroke-width="2"/>
<circle cx="1144.4" cy="601.6" r="7.15" fill="#a6a6a6" stroke="#000" stroke-width="1.85"/>
<circle cx="1141.3" cy="638.9" r="7.15" fill="#a6a6a6" stroke="#000" stroke-width="1.85"/>
<circle cx="1147.2" cy="633.7" r="7.15" fill="#a6a6a6" stroke="#000" stroke-width="1.85"/>
<circle cx="1135.6" cy="648" r="7.15" fill="#a6a6a6" stroke="#000" stroke-width="1.85"/>
<circle cx="1153.3" cy="644.3" r="7.15" fill="#a6a6a6" stroke="#000" stroke-width="1.85"/>
<circle cx="1147.2" cy="653.4" r="7.15" fill="#a6a6a6" stroke="#000" stroke-width="1.85"/>
<circle cx="1141.3" cy="655.3" r="7.15" fill="#a6a6a6" stroke="#000" stroke-width="1.85"/>
<circle cx="1135.6" cy="665.4" r="7.15" fill="#a6a6a6" stroke="#000" stroke-width="1.85"/>
<circle cx="1153.3" cy="666.9" r="7.15" fill="#a6a6a6" stroke="#000" stroke-width="1.85"/>
<circle cx="1147.2" cy="677.8" r="7.15" fill="#a6a6a6" stroke="#000" stroke-width="1.85"/>
<circle cx="1141.3" cy="676.1" r="7.15" fill="#a6a6a6" stroke="#000" stroke-width="1.85"/>
<circle cx="1144.4" cy="774.8" r="7.15" fill="#a6a6a6" stroke="#000" stroke-width="1.85"/>
<line x1="1176.3" y1="747" x2="1207.9" y2="747" stroke="#000" stroke-width="2"/>
<circle cx="1200.9" cy="721.2" r="7.15" fill="#f22800" stroke="#000" stroke-width="1.85"/>
<circle cx="1183.6" cy="729.8" r="7.15" fill="#f22800" stroke="#000" stroke-width="1.85"/>
<circle cx="1200.9" cy="739.7" r="7.15" fill="#f22800" stroke="#000" stroke-width="1.85"/>
<circle cx="1183.6" cy="753.7" r="7.15" fill="#f22800" stroke="#000" stroke-width="1.85"/>
<circle cx="1200.9" cy="760.3" r="7.15" fill="#f22800" stroke="#000" stroke-width="1.85"/>
<circle cx="1183.6" cy="770.9" r="7.15" fill="#f22800" stroke="#000" stroke-width="1.85"/>
<line x1="1224.1" y1="760" x2="1255.7" y2="760" stroke="#000" stroke-width="2"/>
<circle cx="1248.8" cy="740" r="7.15" fill="#0a8cf0" stroke="#000" stroke-width="1.85"/>
<circle cx="1231.4" cy="757.4" r="7.15" fill="#0a8cf0" stroke="#000" stroke-width="1.85"/>
<circle cx="1248.8" cy="759.5" r="7.15" fill="#0a8cf0" stroke="#000" stroke-width="1.85"/>
<circle cx="1239.8" cy="751.1" r="7.15" fill="#0a8cf0" stroke="#000" stroke-width="1.85"/>
<circle cx="1235.4" cy="774.9" r="7.15" fill="#0a8cf0" stroke="#000" stroke-width="1.85"/>
<circle cx="1244.1" cy="774.9" r="7.15" fill="#0a8cf0" stroke="#000" stroke-width="1.85"/>
<line x1="1271.9" y1="744" x2="1303.5" y2="744" stroke="#000" stroke-width="2"/>
<circle cx="1287.7" cy="723" r="7.15" fill="#72d29e" stroke="#000" stroke-width="1.85"/>
<circle cx="1279.2" cy="732.7" r="7.15" fill="#72d29e" stroke="#000" stroke-width="1.85"/>
<circle cx="1296.4" cy="732.9" r="7.15" fill="#72d29e" stroke="#000" stroke-width="1.85"/>
<circle cx="1287.7" cy="754.8" r="7.15" fill="#72d29e" stroke="#000" stroke-width="1.85"/>
<circle cx="1296.4" cy="764.1" r="7.15" fill="#72d29e" stroke="#000" stroke-width="1.85"/>
<circle cx="1279.2" cy="777.5" r="7.15" fill="#72d29e" stroke="#000" stroke-width="1.85"/>
<circle cx="1327.2" cy="666.6" r="7.15" fill="#9236f6" stroke="#000" stroke-width="1.85"/>
<circle cx="1344.3" cy="670.7" r="7.15" fill="#9236f6" stroke="#000" stroke-width="1.85"/>
<circle cx="1327.2" cy="687.8" r="7.15" fill="#9236f6" stroke="#000" stroke-width="1.85"/>
<circle cx="1344.3" cy="688.7" r="7.15" fill="#9236f6" stroke="#000" stroke-width="1.85"/>
<circle cx="1335.5" cy="765.5" r="7.15" fill="#9236f6" stroke="#000" stroke-width="1.85"/>
<line x1="1367.5" y1="683.1" x2="1399.1" y2="683.1" stroke="#000" stroke-width="2"/>
<circle cx="1383.2" cy="632.2" r="7.15" fill="#fdd57e" stroke="#000" stroke-width="1.85"/>
<circle cx="1383.2" cy="658.6" r="7.15" fill="#fdd57e" stroke="#000" stroke-width="1.85"/>
<circle cx="1383.2" cy="675.4" r="7.15" fill="#fdd57e" stroke="#000" stroke-width="1.85"/>
<circle cx="1383.2" cy="691.1" r="7.15" fill="#fdd57e" stroke="#000" stroke-width="1.85"/>
<circle cx="1374.8" cy="725.7" r="7.15" fill="#fdd57e" stroke="#000" stroke-width="1.85"/>
<circle cx="1391.9" cy="724.6" r="7.15" fill="#fdd57e" stroke="#000" stroke-width="1.85"/>
<path d="M1195.1 542L1189.1 542M1195.1 542L1193.25 536.29M1195.1 542L1199.95 538.47M1195.1 542L1199.95 545.53M1195.1 542L1193.25 547.71" stroke="#000" stroke-width="2" fill="none"/>
<path d="M1195.1 528.5L1189.1 528.5M1195.1 528.5L1193.25 522.79M1195.1 528.5L1199.95 524.97M1195.1 528.5L1199.95 532.03M1195.1 528.5L1193.25 534.21" stroke="#000" stroke-width="2" fill="none"/>
<path d="M1195.1 515L1189.1 515M1195.1 515L1193.25 509.29M1195.1 515L1199.95 511.47M1195.1 515L1199.95 518.53M1195.1 515L1193.25 520.71" stroke="#000" stroke-width="2" fill="none"/>
<path d="M1195.1 501.5L1189.1 501.5M1195.1 501.5L1193.25 495.79M1195.1 501.5L1199.95 497.97M1195.1 501.5L1199.95 505.03M1195.1 501.5L1193.25 507.21" stroke="#000" stroke-width="2" fill="none"/>
<path d="M1242.9 542L1236.9 542M1242.9 542L1241.05 536.29M1242.9 542L1247.75 538.47M1242.9 542L1247.75 545.53M1242.9 542L1241.05 547.71" stroke="#000" stroke-width="2" fill="none"/>
<path d="M1242.9 528.5L1236.9 528.5M1242.9 528.5L1241.05 522.79M1242.9 528.5L1247.75 524.97M1242.9 528.5L1247.75 532.03M1242.9 528.5L1241.05 534.21" stroke="#000" stroke-width="2" fill="none"/>
<path d="M1242.9 515L1236.9 515M1242.9 515L1241.05 509.29M1242.9 515L1247.75 511.47M1242.9 515L1247.75 518.53M1242.9 515L1241.05 520.71" stroke="#000" stroke-width="2" fill="none"/>
<path d="M1242.9 501.5L1236.9 501.5M1242.9 501.5L1241.05 495.79M1242.9 501.5L1247.75 497.97M1242.9 501.5L1247.75 505.03M1242.9 501.5L1241.05 507.21" stroke="#000" stroke-width="2" fill="none"/>
<path d="M1290.8 542L1284.8 542M1290.8 542L1288.95 536.29M1290.8 542L1295.65 538.47M1290.8 542L1295.65 545.53M1290.8 542L1288.95 547.71" stroke="#000" stroke-width="2" fill="none"/>
<path d="M1290.8 528.5L1284.8 528.5M1290.8 528.5L1288.95 522.79M1290.8 528.5L1295.65 524.97M1290.8 528.5L1295.65 532.03M1290.8 528.5L1288.95 534.21" stroke="#000" stroke-width="2" fill="none"/>
<path d="M1290.8 515L1284.8 515M1290.8 515L1288.95 509.29M1290.8 515L1295.65 511.47M1290.8 515L1295.65 518.53M1290.8 515L1288.95 520.71" stroke="#000" stroke-width="2" fill="none"/>
<path d="M1290.8 501.5L1284.8 501.5M1290.8 501.5L1288.95 495.79M1290.8 501.5L1295.65 497.97M1290.8 501.5L1295.65 505.03M1290.8 501.5L1288.95 507.21" stroke="#000" stroke-width="2" fill="none"/>
<text transform="translate(1318.73 541.2) scale(0.9620 1)" font-size="30">NS</text>
<text transform="translate(1366.33 541.2) scale(0.9620 1)" font-size="30">NS</text>
<line x1="652.4" y1="964.1" x2="652.4" y2="1269.5" stroke="#000" stroke-width="2.9"/>
<line x1="641.9" y1="1269.5" x2="955.1" y2="1269.5" stroke="#000" stroke-width="2.9"/>
<line x1="641.9" y1="1269.5" x2="652.4" y2="1269.5" stroke="#000" stroke-width="2.9"/>
<text transform="translate(617.8 1278.2) scale(0.9700 1)" font-size="29.5">0</text>
<line x1="641.9" y1="1239.11" x2="652.4" y2="1239.11" stroke="#000" stroke-width="2.9"/>
<text transform="translate(618.08 1247.81) scale(0.9700 1)" font-size="29.5">1</text>
<line x1="641.9" y1="1208.71" x2="652.4" y2="1208.71" stroke="#000" stroke-width="2.9"/>
<text transform="translate(618.12 1217.41) scale(0.9700 1)" font-size="29.5">2</text>
<line x1="641.9" y1="1178.32" x2="652.4" y2="1178.32" stroke="#000" stroke-width="2.9"/>
<text transform="translate(617.94 1187.02) scale(0.9700 1)" font-size="29.5">3</text>
<line x1="641.9" y1="1147.92" x2="652.4" y2="1147.92" stroke="#000" stroke-width="2.9"/>
<text transform="translate(617.52 1156.62) scale(0.9700 1)" font-size="29.5">4</text>
<line x1="641.9" y1="1117.53" x2="652.4" y2="1117.53" stroke="#000" stroke-width="2.9"/>
<text transform="translate(617.89 1126.23) scale(0.9700 1)" font-size="29.5">5</text>
<line x1="641.9" y1="1087.13" x2="652.4" y2="1087.13" stroke="#000" stroke-width="2.9"/>
<text transform="translate(617.94 1095.83) scale(0.9700 1)" font-size="29.5">6</text>
<line x1="641.9" y1="1056.73" x2="652.4" y2="1056.73" stroke="#000" stroke-width="2.9"/>
<text transform="translate(618.12 1065.43) scale(0.9700 1)" font-size="29.5">7</text>
<line x1="641.9" y1="1026.34" x2="652.4" y2="1026.34" stroke="#000" stroke-width="2.9"/>
<text transform="translate(617.93 1035.04) scale(0.9700 1)" font-size="29.5">8</text>
<line x1="641.9" y1="995.94" x2="652.4" y2="995.94" stroke="#000" stroke-width="2.9"/>
<text transform="translate(618.04 1004.64) scale(0.9700 1)" font-size="29.5">9</text>
<line x1="641.9" y1="965.55" x2="652.4" y2="965.55" stroke="#000" stroke-width="2.9"/>
<text transform="translate(601.89 974.25) scale(0.9700 1)" font-size="29.5">10</text>
<line x1="656.4" y1="1214.2" x2="955.1" y2="1214.2" stroke="#000" stroke-width="2.1" stroke-dasharray="2.1 2.74"/>
<text transform="translate(772.22 1310.8) scale(0.9672 1)" font-size="30">Lung</text>
<text transform="translate(572.9 1288.57) rotate(-90) scale(0.9746 1)" font-size="30">log<tspan font-size="21" dy="9.3">10</tspan><tspan dy="-9.3">(</tspan><tspan font-style="italic">N</tspan> gene copies per mg)</text>
<text transform="translate(515.63 929.8) scale(1.1306 1)" font-size="32.5" font-weight="bold" fill="#222">h</text>
<line x1="668" y1="1034.4" x2="699.6" y2="1034.4" stroke="#000" stroke-width="2"/>
<circle cx="679.3" cy="1020.7" r="7.15" fill="#a6a6a6" stroke="#000" stroke-width="1.85"/>
<circle cx="688.6" cy="1016.8" r="7.15" fill="#a6a6a6" stroke="#000" stroke-width="1.85"/>
<circle cx="674.8" cy="1025.2" r="7.15" fill="#a6a6a6" stroke="#000" stroke-width="1.85"/>
<circle cx="692.6" cy="1012.8" r="7.15" fill="#a6a6a6" stroke="#000" stroke-width="1.85"/>
<circle cx="686.2" cy="1035" r="7.15" fill="#a6a6a6" stroke="#000" stroke-width="1.85"/>
<circle cx="678.8" cy="1031.1" r="7.15" fill="#a6a6a6" stroke="#000" stroke-width="1.85"/>
<circle cx="690.6" cy="1030.1" r="7.15" fill="#a6a6a6" stroke="#000" stroke-width="1.85"/>
<circle cx="681.9" cy="1027.1" r="7.15" fill="#a6a6a6" stroke="#000" stroke-width="1.85"/>
<circle cx="683.9" cy="1050.5" r="7.15" fill="#a6a6a6" stroke="#000" stroke-width="1.85"/>
<circle cx="681.2" cy="1070.6" r="7.15" fill="#a6a6a6" stroke="#000" stroke-width="1.85"/>
<circle cx="686.5" cy="1067.1" r="7.15" fill="#a6a6a6" stroke="#000" stroke-width="1.85"/>
<line x1="715.85" y1="1178.9" x2="747.45" y2="1178.9" stroke="#000" stroke-width="2"/>
<circle cx="723.5" cy="1161.2" r="7.15" fill="#f22800" stroke="#000" stroke-width="1.85"/>
<circle cx="740.8" cy="1169.1" r="7.15" fill="#f22800" stroke="#000" stroke-width="1.85"/>
<circle cx="732.7" cy="1181.5" r="7.15" fill="#f22800" stroke="#000" stroke-width="1.85"/>
<circle cx="740.6" cy="1186.6" r="7.15" fill="#f22800" stroke="#000" stroke-width="1.85"/>
<circle cx="723.5" cy="1179.6" r="7.15" fill="#f22800" stroke="#000" stroke-width="1.85"/>
<circle cx="723.5" cy="1196.5" r="7.15" fill="#f22800" stroke="#000" stroke-width="1.85"/>
<line x1="763.7" y1="1167.7" x2="795.3" y2="1167.7" stroke="#000" stroke-width="2"/>
<circle cx="779.9" cy="1134.7" r="7.15" fill="#0a8cf0" stroke="#000" stroke-width="1.85"/>
<circle cx="784.4" cy="1157.8" r="7.15" fill="#0a8cf0" stroke="#000" stroke-width="1.85"/>
<circle cx="775.4" cy="1155.9" r="7.15" fill="#0a8cf0" stroke="#000" stroke-width="1.85"/>
<circle cx="779.9" cy="1178.1" r="7.15" fill="#0a8cf0" stroke="#000" stroke-width="1.85"/>
<circle cx="788.9" cy="1187.5" r="7.15" fill="#0a8cf0" stroke="#000" stroke-width="1.85"/>
<circle cx="771.1" cy="1192" r="7.15" fill="#0a8cf0" stroke="#000" stroke-width="1.85"/>
<line x1="811.55" y1="1187.1" x2="843.15" y2="1187.1" stroke="#000" stroke-width="2"/>
<circle cx="828" cy="1115.1" r="7.15" fill="#72d29e" stroke="#000" stroke-width="1.85"/>
<circle cx="836.8" cy="1188.6" r="7.15" fill="#72d29e" stroke="#000" stroke-width="1.85"/>
<circle cx="836.8" cy="1205.2" r="7.15" fill="#72d29e" stroke="#000" stroke-width="1.85"/>
<circle cx="828.4" cy="1201.8" r="7.15" fill="#72d29e" stroke="#000" stroke-width="1.85"/>
<circle cx="819.4" cy="1197.6" r="7.15" fill="#72d29e" stroke="#000" stroke-width="1.85"/>
<circle cx="819.4" cy="1215" r="7.15" fill="#72d29e" stroke="#000" stroke-width="1.85"/>
<line x1="859.4" y1="1116.1" x2="891" y2="1116.1" stroke="#000" stroke-width="2"/>
<circle cx="880.6" cy="1097.4" r="7.15" fill="#9236f6" stroke="#000" stroke-width="1.85"/>
<circle cx="871.2" cy="1100" r="7.15" fill="#9236f6" stroke="#000" stroke-width="1.85"/>
<circle cx="867.3" cy="1116.1" r="7.15" fill="#9236f6" stroke="#000" stroke-width="1.85"/>
<circle cx="885" cy="1126.5" r="7.15" fill="#9236f6" stroke="#000" stroke-width="1.85"/>
<circle cx="876" cy="1121.4" r="7.15" fill="#9236f6" stroke="#000" stroke-width="1.85"/>
<circle cx="867.3" cy="1133.9" r="7.15" fill="#9236f6" stroke="#000" stroke-width="1.85"/>
<line x1="907.25" y1="1039" x2="938.85" y2="1039" stroke="#000" stroke-width="2"/>
<circle cx="932.9" cy="1024.3" r="7.15" fill="#fdd57e" stroke="#000" stroke-width="1.85"/>
<circle cx="921.1" cy="1042.1" r="7.15" fill="#fdd57e" stroke="#000" stroke-width="1.85"/>
<circle cx="927" cy="1039.6" r="7.15" fill="#fdd57e" stroke="#000" stroke-width="1.85"/>
<circle cx="915.1" cy="1038.1" r="7.15" fill="#fdd57e" stroke="#000" stroke-width="1.85"/>
<circle cx="932.9" cy="1043.6" r="7.15" fill="#fdd57e" stroke="#000" stroke-width="1.85"/>
<circle cx="924" cy="1061.1" r="7.15" fill="#fdd57e" stroke="#000" stroke-width="1.85"/>
<path d="M734.4 986.8L728.4 986.8M734.4 986.8L732.55 981.09M734.4 986.8L739.25 983.27M734.4 986.8L739.25 990.33M734.4 986.8L732.55 992.51" stroke="#000" stroke-width="2" fill="none"/>
<path d="M734.4 973.3L728.4 973.3M734.4 973.3L732.55 967.59M734.4 973.3L739.25 969.77M734.4 973.3L739.25 976.83M734.4 973.3L732.55 979.01" stroke="#000" stroke-width="2" fill="none"/>
<path d="M734.4 959.8L728.4 959.8M734.4 959.8L732.55 954.09M734.4 959.8L739.25 956.27M734.4 959.8L739.25 963.33M734.4 959.8L732.55 965.51" stroke="#000" stroke-width="2" fill="none"/>
<path d="M734.4 946.3L728.4 946.3M734.4 946.3L732.55 940.59M734.4 946.3L739.25 942.77M734.4 946.3L739.25 949.83M734.4 946.3L732.55 952.01" stroke="#000" stroke-width="2" fill="none"/>
<path d="M782.4 986.8L776.4 986.8M782.4 986.8L780.55 981.09M782.4 986.8L787.25 983.27M782.4 986.8L787.25 990.33M782.4 986.8L780.55 992.51" stroke="#000" stroke-width="2" fill="none"/>
<path d="M782.4 973.3L776.4 973.3M782.4 973.3L780.55 967.59M782.4 973.3L787.25 969.77M782.4 973.3L787.25 976.83M782.4 973.3L780.55 979.01" stroke="#000" stroke-width="2" fill="none"/>
<path d="M782.4 959.8L776.4 959.8M782.4 959.8L780.55 954.09M782.4 959.8L787.25 956.27M782.4 959.8L787.25 963.33M782.4 959.8L780.55 965.51" stroke="#000" stroke-width="2" fill="none"/>
<path d="M782.4 946.3L776.4 946.3M782.4 946.3L780.55 940.59M782.4 946.3L787.25 942.77M782.4 946.3L787.25 949.83M782.4 946.3L780.55 952.01" stroke="#000" stroke-width="2" fill="none"/>
<path d="M830.5 986.8L824.5 986.8M830.5 986.8L828.65 981.09M830.5 986.8L835.35 983.27M830.5 986.8L835.35 990.33M830.5 986.8L828.65 992.51" stroke="#000" stroke-width="2" fill="none"/>
<path d="M830.5 973.3L824.5 973.3M830.5 973.3L828.65 967.59M830.5 973.3L835.35 969.77M830.5 973.3L835.35 976.83M830.5 973.3L828.65 979.01" stroke="#000" stroke-width="2" fill="none"/>
<path d="M830.5 959.8L824.5 959.8M830.5 959.8L828.65 954.09M830.5 959.8L835.35 956.27M830.5 959.8L835.35 963.33M830.5 959.8L828.65 965.51" stroke="#000" stroke-width="2" fill="none"/>
<path d="M830.5 946.3L824.5 946.3M830.5 946.3L828.65 940.59M830.5 946.3L835.35 942.77M830.5 946.3L835.35 949.83M830.5 946.3L828.65 952.01" stroke="#000" stroke-width="2" fill="none"/>
<path d="M878.3 986.8L872.3 986.8M878.3 986.8L876.45 981.09M878.3 986.8L883.15 983.27M878.3 986.8L883.15 990.33M878.3 986.8L876.45 992.51" stroke="#000" stroke-width="2" fill="none"/>
<path d="M878.3 973.3L872.3 973.3M878.3 973.3L876.45 967.59M878.3 973.3L883.15 969.77M878.3 973.3L883.15 976.83M878.3 973.3L876.45 979.01" stroke="#000" stroke-width="2" fill="none"/>
<path d="M878.3 959.8L872.3 959.8M878.3 959.8L876.45 954.09M878.3 959.8L883.15 956.27M878.3 959.8L883.15 963.33M878.3 959.8L876.45 965.51" stroke="#000" stroke-width="2" fill="none"/>
<path d="M878.3 946.3L872.3 946.3M878.3 946.3L876.45 940.59M878.3 946.3L883.15 942.77M878.3 946.3L883.15 949.83M878.3 946.3L876.45 952.01" stroke="#000" stroke-width="2" fill="none"/>
<text transform="translate(917.93 984.6) scale(0.9620 1)" font-size="30">NS</text>
<line x1="1113.4" y1="964.1" x2="1113.4" y2="1269.6" stroke="#000" stroke-width="2.9"/>
<line x1="1102.9" y1="1269.6" x2="1415.3" y2="1269.6" stroke="#000" stroke-width="2.9"/>
<line x1="1102.9" y1="1269.6" x2="1113.4" y2="1269.6" stroke="#000" stroke-width="2.9"/>
<text transform="translate(1082.12 1278.3) scale(0.9700 1)" font-size="29.5">2</text>
<line x1="1102.9" y1="1231.59" x2="1113.4" y2="1231.59" stroke="#000" stroke-width="2.9"/>
<text transform="translate(1081.94 1240.29) scale(0.9700 1)" font-size="29.5">3</text>
<line x1="1102.9" y1="1193.59" x2="1113.4" y2="1193.59" stroke="#000" stroke-width="2.9"/>
<text transform="translate(1081.52 1202.29) scale(0.9700 1)" font-size="29.5">4</text>
<line x1="1102.9" y1="1155.58" x2="1113.4" y2="1155.58" stroke="#000" stroke-width="2.9"/>
<text transform="translate(1081.89 1164.28) scale(0.9700 1)" font-size="29.5">5</text>
<line x1="1102.9" y1="1117.57" x2="1113.4" y2="1117.57" stroke="#000" stroke-width="2.9"/>
<text transform="translate(1081.94 1126.27) scale(0.9700 1)" font-size="29.5">6</text>
<line x1="1102.9" y1="1079.57" x2="1113.4" y2="1079.57" stroke="#000" stroke-width="2.9"/>
<text transform="translate(1082.12 1088.27) scale(0.9700 1)" font-size="29.5">7</text>
<line x1="1102.9" y1="1041.56" x2="1113.4" y2="1041.56" stroke="#000" stroke-width="2.9"/>
<text transform="translate(1081.93 1050.26) scale(0.9700 1)" font-size="29.5">8</text>
<line x1="1102.9" y1="1003.56" x2="1113.4" y2="1003.56" stroke="#000" stroke-width="2.9"/>
<text transform="translate(1082.04 1012.26) scale(0.9700 1)" font-size="29.5">9</text>
<line x1="1102.9" y1="965.55" x2="1113.4" y2="965.55" stroke="#000" stroke-width="2.9"/>
<text transform="translate(1065.89 974.25) scale(0.9700 1)" font-size="29.5">10</text>
<line x1="1117.4" y1="1221.4" x2="1415.3" y2="1221.4" stroke="#000" stroke-width="2.1" stroke-dasharray="2.1 2.74"/>
<text transform="translate(1194.47 1309.1) scale(0.9452 1)" font-size="30">Nasal wash</text>
<text transform="translate(1056.4 1289.63) rotate(-90) scale(0.9560 1)" font-size="30">log<tspan font-size="21" dy="9.3">10</tspan><tspan dy="-9.3">(</tspan><tspan font-style="italic">N</tspan> gene copies per ml)</text>
<text transform="translate(996.44 929.8) scale(1.3904 1)" font-size="32.5" font-weight="bold" fill="#222">i</text>
<line x1="1128.9" y1="1110" x2="1160.5" y2="1110" stroke="#000" stroke-width="2"/>
<circle cx="1145.2" cy="1074.3" r="7.15" fill="#a6a6a6" stroke="#000" stroke-width="1.85"/>
<circle cx="1139.7" cy="1101.3" r="7.15" fill="#a6a6a6" stroke="#000" stroke-width="1.85"/>
<circle cx="1150.6" cy="1099.5" r="7.15" fill="#a6a6a6" stroke="#000" stroke-width="1.85"/>
<circle cx="1145.2" cy="1099" r="7.15" fill="#a6a6a6" stroke="#000" stroke-width="1.85"/>
<circle cx="1145.2" cy="1089.1" r="7.15" fill="#a6a6a6" stroke="#000" stroke-width="1.85"/>
<circle cx="1148.6" cy="1114.3" r="7.15" fill="#a6a6a6" stroke="#000" stroke-width="1.85"/>
<circle cx="1136.3" cy="1115.8" r="7.15" fill="#a6a6a6" stroke="#000" stroke-width="1.85"/>
<circle cx="1154.1" cy="1113.3" r="7.15" fill="#a6a6a6" stroke="#000" stroke-width="1.85"/>
<circle cx="1145.2" cy="1132.9" r="7.15" fill="#a6a6a6" stroke="#000" stroke-width="1.85"/>
<circle cx="1145.2" cy="1144.7" r="7.15" fill="#a6a6a6" stroke="#000" stroke-width="1.85"/>
<circle cx="1145.2" cy="1221.4" r="7.15" fill="#a6a6a6" stroke="#000" stroke-width="1.85"/>
<line x1="1176.7" y1="1203" x2="1208.3" y2="1203" stroke="#000" stroke-width="2"/>
<circle cx="1193.1" cy="1189.3" r="7.15" fill="#f22800" stroke="#000" stroke-width="1.85"/>
<circle cx="1184.7" cy="1195.1" r="7.15" fill="#f22800" stroke="#000" stroke-width="1.85"/>
<circle cx="1201.9" cy="1186.7" r="7.15" fill="#f22800" stroke="#000" stroke-width="1.85"/>
<circle cx="1201.9" cy="1204.1" r="7.15" fill="#f22800" stroke="#000" stroke-width="1.85"/>
<circle cx="1188.6" cy="1221.4" r="7.15" fill="#f22800" stroke="#000" stroke-width="1.85"/>
<circle cx="1197.5" cy="1221.4" r="7.15" fill="#f22800" stroke="#000" stroke-width="1.85"/>
<line x1="1224.5" y1="1197.4" x2="1256.1" y2="1197.4" stroke="#000" stroke-width="2"/>
<circle cx="1241.2" cy="1160.9" r="7.15" fill="#0a8cf0" stroke="#000" stroke-width="1.85"/>
<circle cx="1237" cy="1177.7" r="7.15" fill="#0a8cf0" stroke="#000" stroke-width="1.85"/>
<circle cx="1245.6" cy="1182.9" r="7.15" fill="#0a8cf0" stroke="#000" stroke-width="1.85"/>
<circle cx="1241.2" cy="1219.4" r="7.15" fill="#0a8cf0" stroke="#000" stroke-width="1.85"/>
<circle cx="1232.5" cy="1221.4" r="7.15" fill="#0a8cf0" stroke="#000" stroke-width="1.85"/>
<circle cx="1250.1" cy="1221.4" r="7.15" fill="#0a8cf0" stroke="#000" stroke-width="1.85"/>
<line x1="1272.3" y1="1135.7" x2="1303.9" y2="1135.7" stroke="#000" stroke-width="2"/>
<circle cx="1280.9" cy="1114.7" r="7.15" fill="#72d29e" stroke="#000" stroke-width="1.85"/>
<circle cx="1298" cy="1112.6" r="7.15" fill="#72d29e" stroke="#000" stroke-width="1.85"/>
<circle cx="1280.9" cy="1132.7" r="7.15" fill="#72d29e" stroke="#000" stroke-width="1.85"/>
<circle cx="1298" cy="1128.1" r="7.15" fill="#72d29e" stroke="#000" stroke-width="1.85"/>
<circle cx="1280.9" cy="1164.8" r="7.15" fill="#72d29e" stroke="#000" stroke-width="1.85"/>
<circle cx="1298" cy="1159.5" r="7.15" fill="#72d29e" stroke="#000" stroke-width="1.85"/>
<line x1="1320.1" y1="1135.2" x2="1351.7" y2="1135.2" stroke="#000" stroke-width="2"/>
<circle cx="1337.5" cy="1069.3" r="7.15" fill="#9236f6" stroke="#000" stroke-width="1.85"/>
<circle cx="1337.5" cy="1093.2" r="7.15" fill="#9236f6" stroke="#000" stroke-width="1.85"/>
<circle cx="1329" cy="1148.6" r="7.15" fill="#9236f6" stroke="#000" stroke-width="1.85"/>
<circle cx="1345.9" cy="1146.5" r="7.15" fill="#9236f6" stroke="#000" stroke-width="1.85"/>
<circle cx="1329" cy="1181" r="7.15" fill="#9236f6" stroke="#000" stroke-width="1.85"/>
<circle cx="1345.9" cy="1174.3" r="7.15" fill="#9236f6" stroke="#000" stroke-width="1.85"/>
<line x1="1367.9" y1="1126" x2="1399.5" y2="1126" stroke="#000" stroke-width="2"/>
<circle cx="1385.6" cy="1087.2" r="7.15" fill="#fdd57e" stroke="#000" stroke-width="1.85"/>
<circle cx="1376.6" cy="1128.1" r="7.15" fill="#fdd57e" stroke="#000" stroke-width="1.85"/>
<circle cx="1394.3" cy="1139.7" r="7.15" fill="#fdd57e" stroke="#000" stroke-width="1.85"/>
<circle cx="1385.6" cy="1129.9" r="7.15" fill="#fdd57e" stroke="#000" stroke-width="1.85"/>
<circle cx="1377.1" cy="1143.9" r="7.15" fill="#fdd57e" stroke="#000" stroke-width="1.85"/>
<path d="M1196.3 986.7L1190.3 986.7M1196.3 986.7L1194.45 980.99M1196.3 986.7L1201.15 983.17M1196.3 986.7L1201.15 990.23M1196.3 986.7L1194.45 992.41" stroke="#000" stroke-width="2" fill="none"/>
<path d="M1196.3 973.2L1190.3 973.2M1196.3 973.2L1194.45 967.49M1196.3 973.2L1201.15 969.67M1196.3 973.2L1201.15 976.73M1196.3 973.2L1194.45 978.91" stroke="#000" stroke-width="2" fill="none"/>
<path d="M1196.3 959.7L1190.3 959.7M1196.3 959.7L1194.45 953.99M1196.3 959.7L1201.15 956.17M1196.3 959.7L1201.15 963.23M1196.3 959.7L1194.45 965.41" stroke="#000" stroke-width="2" fill="none"/>
<path d="M1196.3 946.2L1190.3 946.2M1196.3 946.2L1194.45 940.49M1196.3 946.2L1201.15 942.67M1196.3 946.2L1201.15 949.73M1196.3 946.2L1194.45 951.91" stroke="#000" stroke-width="2" fill="none"/>
<path d="M1244.1 986.7L1238.1 986.7M1244.1 986.7L1242.25 980.99M1244.1 986.7L1248.95 983.17M1244.1 986.7L1248.95 990.23M1244.1 986.7L1242.25 992.41" stroke="#000" stroke-width="2" fill="none"/>
<path d="M1244.1 973.2L1238.1 973.2M1244.1 973.2L1242.25 967.49M1244.1 973.2L1248.95 969.67M1244.1 973.2L1248.95 976.73M1244.1 973.2L1242.25 978.91" stroke="#000" stroke-width="2" fill="none"/>
<path d="M1244.1 959.7L1238.1 959.7M1244.1 959.7L1242.25 953.99M1244.1 959.7L1248.95 956.17M1244.1 959.7L1248.95 963.23M1244.1 959.7L1242.25 965.41" stroke="#000" stroke-width="2" fill="none"/>
<path d="M1244.1 946.2L1238.1 946.2M1244.1 946.2L1242.25 940.49M1244.1 946.2L1248.95 942.67M1244.1 946.2L1248.95 949.73M1244.1 946.2L1242.25 951.91" stroke="#000" stroke-width="2" fill="none"/>
<text transform="translate(1270.83 986.7) scale(0.9620 1)" font-size="30">NS</text>
<text transform="translate(1320.33 986.7) scale(0.9620 1)" font-size="30">NS</text>
<text transform="translate(1369.43 986.7) scale(0.9620 1)" font-size="30">NS</text>
<line x1="650.6" y1="1427.51" x2="650.6" y2="1731.5" stroke="#000" stroke-width="2.9"/>
<line x1="640.1" y1="1731.5" x2="953.3" y2="1731.5" stroke="#000" stroke-width="2.9"/>
<line x1="640.1" y1="1731.5" x2="650.6" y2="1731.5" stroke="#000" stroke-width="2.9"/>
<text transform="translate(616 1740.2) scale(0.9700 1)" font-size="29.5">0</text>
<line x1="640.1" y1="1701.25" x2="650.6" y2="1701.25" stroke="#000" stroke-width="2.9"/>
<text transform="translate(616.28 1709.95) scale(0.9700 1)" font-size="29.5">1</text>
<line x1="640.1" y1="1670.99" x2="650.6" y2="1670.99" stroke="#000" stroke-width="2.9"/>
<text transform="translate(616.32 1679.69) scale(0.9700 1)" font-size="29.5">2</text>
<line x1="640.1" y1="1640.74" x2="650.6" y2="1640.74" stroke="#000" stroke-width="2.9"/>
<text transform="translate(616.14 1649.44) scale(0.9700 1)" font-size="29.5">3</text>
<line x1="640.1" y1="1610.48" x2="650.6" y2="1610.48" stroke="#000" stroke-width="2.9"/>
<text transform="translate(615.72 1619.18) scale(0.9700 1)" font-size="29.5">4</text>
<line x1="640.1" y1="1580.23" x2="650.6" y2="1580.23" stroke="#000" stroke-width="2.9"/>
<text transform="translate(616.09 1588.93) scale(0.9700 1)" font-size="29.5">5</text>
<line x1="640.1" y1="1549.98" x2="650.6" y2="1549.98" stroke="#000" stroke-width="2.9"/>
<text transform="translate(616.14 1558.68) scale(0.9700 1)" font-size="29.5">6</text>
<line x1="640.1" y1="1519.72" x2="650.6" y2="1519.72" stroke="#000" stroke-width="2.9"/>
<text transform="translate(616.32 1528.42) scale(0.9700 1)" font-size="29.5">7</text>
<line x1="640.1" y1="1489.47" x2="650.6" y2="1489.47" stroke="#000" stroke-width="2.9"/>
<text transform="translate(616.13 1498.17) scale(0.9700 1)" font-size="29.5">8</text>
<line x1="640.1" y1="1459.21" x2="650.6" y2="1459.21" stroke="#000" stroke-width="2.9"/>
<text transform="translate(616.24 1467.91) scale(0.9700 1)" font-size="29.5">9</text>
<line x1="640.1" y1="1428.96" x2="650.6" y2="1428.96" stroke="#000" stroke-width="2.9"/>
<text transform="translate(600.09 1437.66) scale(0.9700 1)" font-size="29.5">10</text>
<line x1="654.6" y1="1677" x2="953.3" y2="1677" stroke="#000" stroke-width="2.1" stroke-dasharray="2.1 2.74"/>
<text transform="translate(770.61 1777.9) scale(0.9720 1)" font-size="30">Lung</text>
<text transform="translate(572.9 1750.57) rotate(-90) scale(0.9738 1)" font-size="30">log<tspan font-size="21" dy="9.3">10</tspan><tspan dy="-9.3">(</tspan><tspan font-style="italic">N</tspan> gene copies per mg)</text>
<text transform="translate(515.52 1383.8) scale(1.1807 1)" font-size="32.5" font-weight="bold" fill="#222">k</text>
<line x1="666.2" y1="1505.5" x2="697.8" y2="1505.5" stroke="#000" stroke-width="2"/>
<circle cx="672.2" cy="1493" r="7.15" fill="#a6a6a6" stroke="#000" stroke-width="1.85"/>
<circle cx="673.9" cy="1491.3" r="7.15" fill="#a6a6a6" stroke="#000" stroke-width="1.85"/>
<circle cx="678.5" cy="1490.9" r="7.15" fill="#a6a6a6" stroke="#000" stroke-width="1.85"/>
<circle cx="681" cy="1490.5" r="7.15" fill="#a6a6a6" stroke="#000" stroke-width="1.85"/>
<circle cx="678.1" cy="1502.7" r="7.15" fill="#a6a6a6" stroke="#000" stroke-width="1.85"/>
<circle cx="689.9" cy="1498.1" r="7.15" fill="#a6a6a6" stroke="#000" stroke-width="1.85"/>
<circle cx="682.3" cy="1495.5" r="7.15" fill="#a6a6a6" stroke="#000" stroke-width="1.85"/>
<circle cx="691.2" cy="1493" r="7.15" fill="#a6a6a6" stroke="#000" stroke-width="1.85"/>
<circle cx="681.9" cy="1509.9" r="7.15" fill="#a6a6a6" stroke="#000" stroke-width="1.85"/>
<circle cx="681.9" cy="1518.8" r="7.15" fill="#a6a6a6" stroke="#000" stroke-width="1.85"/>
<circle cx="681.9" cy="1562.4" r="7.15" fill="#a6a6a6" stroke="#000" stroke-width="1.85"/>
<line x1="714.05" y1="1641.7" x2="745.65" y2="1641.7" stroke="#000" stroke-width="2"/>
<circle cx="721.5" cy="1622.9" r="7.15" fill="#f22800" stroke="#000" stroke-width="1.85"/>
<circle cx="740" cy="1632" r="7.15" fill="#f22800" stroke="#000" stroke-width="1.85"/>
<circle cx="727" cy="1637.7" r="7.15" fill="#f22800" stroke="#000" stroke-width="1.85"/>
<circle cx="732.8" cy="1629.6" r="7.15" fill="#f22800" stroke="#000" stroke-width="1.85"/>
<circle cx="732.8" cy="1651.3" r="7.15" fill="#f22800" stroke="#000" stroke-width="1.85"/>
<circle cx="730.1" cy="1676.6" r="7.15" fill="#f22800" stroke="#000" stroke-width="1.85"/>
<line x1="761.9" y1="1643" x2="793.5" y2="1643" stroke="#000" stroke-width="2"/>
<circle cx="786.5" cy="1623.8" r="7.15" fill="#0a8cf0" stroke="#000" stroke-width="1.85"/>
<circle cx="774.6" cy="1642.3" r="7.15" fill="#0a8cf0" stroke="#000" stroke-width="1.85"/>
<circle cx="786.5" cy="1642.3" r="7.15" fill="#0a8cf0" stroke="#000" stroke-width="1.85"/>
<circle cx="769.3" cy="1637.7" r="7.15" fill="#0a8cf0" stroke="#000" stroke-width="1.85"/>
<circle cx="781.2" cy="1638" r="7.15" fill="#0a8cf0" stroke="#000" stroke-width="1.85"/>
<circle cx="777.8" cy="1676.6" r="7.15" fill="#0a8cf0" stroke="#000" stroke-width="1.85"/>
<line x1="809.75" y1="1668" x2="841.35" y2="1668" stroke="#000" stroke-width="2"/>
<circle cx="825.7" cy="1643.6" r="7.15" fill="#72d29e" stroke="#000" stroke-width="1.85"/>
<circle cx="821.4" cy="1668" r="7.15" fill="#72d29e" stroke="#000" stroke-width="1.85"/>
<circle cx="816.9" cy="1674.7" r="7.15" fill="#72d29e" stroke="#000" stroke-width="1.85"/>
<circle cx="834.6" cy="1675.4" r="7.15" fill="#72d29e" stroke="#000" stroke-width="1.85"/>
<circle cx="825.7" cy="1674.3" r="7.15" fill="#72d29e" stroke="#000" stroke-width="1.85"/>
<line x1="857.6" y1="1553" x2="889.2" y2="1553" stroke="#000" stroke-width="2"/>
<circle cx="864.8" cy="1529" r="7.15" fill="#9236f6" stroke="#000" stroke-width="1.85"/>
<circle cx="882.3" cy="1539.9" r="7.15" fill="#9236f6" stroke="#000" stroke-width="1.85"/>
<circle cx="873.5" cy="1542.8" r="7.15" fill="#9236f6" stroke="#000" stroke-width="1.85"/>
<circle cx="877.9" cy="1563" r="7.15" fill="#9236f6" stroke="#000" stroke-width="1.85"/>
<circle cx="869.2" cy="1562.6" r="7.15" fill="#9236f6" stroke="#000" stroke-width="1.85"/>
<circle cx="873.5" cy="1580.8" r="7.15" fill="#9236f6" stroke="#000" stroke-width="1.85"/>
<line x1="905.45" y1="1505.7" x2="937.05" y2="1505.7" stroke="#000" stroke-width="2"/>
<circle cx="913" cy="1475.9" r="7.15" fill="#fdd57e" stroke="#000" stroke-width="1.85"/>
<circle cx="930" cy="1490" r="7.15" fill="#fdd57e" stroke="#000" stroke-width="1.85"/>
<circle cx="913" cy="1497.3" r="7.15" fill="#fdd57e" stroke="#000" stroke-width="1.85"/>
<circle cx="913" cy="1515.7" r="7.15" fill="#fdd57e" stroke="#000" stroke-width="1.85"/>
<circle cx="930" cy="1521.9" r="7.15" fill="#fdd57e" stroke="#000" stroke-width="1.85"/>
<circle cx="913" cy="1532.8" r="7.15" fill="#fdd57e" stroke="#000" stroke-width="1.85"/>
<path d="M732.6 1444.7L726.6 1444.7M732.6 1444.7L730.75 1438.99M732.6 1444.7L737.45 1441.17M732.6 1444.7L737.45 1448.23M732.6 1444.7L730.75 1450.41" stroke="#000" stroke-width="2" fill="none"/>
<path d="M732.6 1431.2L726.6 1431.2M732.6 1431.2L730.75 1425.49M732.6 1431.2L737.45 1427.67M732.6 1431.2L737.45 1434.73M732.6 1431.2L730.75 1436.91" stroke="#000" stroke-width="2" fill="none"/>
<path d="M732.6 1417.7L726.6 1417.7M732.6 1417.7L730.75 1411.99M732.6 1417.7L737.45 1414.17M732.6 1417.7L737.45 1421.23M732.6 1417.7L730.75 1423.41" stroke="#000" stroke-width="2" fill="none"/>
<path d="M732.6 1404.2L726.6 1404.2M732.6 1404.2L730.75 1398.49M732.6 1404.2L737.45 1400.67M732.6 1404.2L737.45 1407.73M732.6 1404.2L730.75 1409.91" stroke="#000" stroke-width="2" fill="none"/>
<path d="M780.9 1444.7L774.9 1444.7M780.9 1444.7L779.05 1438.99M780.9 1444.7L785.75 1441.17M780.9 1444.7L785.75 1448.23M780.9 1444.7L779.05 1450.41" stroke="#000" stroke-width="2" fill="none"/>
<path d="M780.9 1431.2L774.9 1431.2M780.9 1431.2L779.05 1425.49M780.9 1431.2L785.75 1427.67M780.9 1431.2L785.75 1434.73M780.9 1431.2L779.05 1436.91" stroke="#000" stroke-width="2" fill="none"/>
<path d="M780.9 1417.7L774.9 1417.7M780.9 1417.7L779.05 1411.99M780.9 1417.7L785.75 1414.17M780.9 1417.7L785.75 1421.23M780.9 1417.7L779.05 1423.41" stroke="#000" stroke-width="2" fill="none"/>
<path d="M780.9 1404.2L774.9 1404.2M780.9 1404.2L779.05 1398.49M780.9 1404.2L785.75 1400.67M780.9 1404.2L785.75 1407.73M780.9 1404.2L779.05 1409.91" stroke="#000" stroke-width="2" fill="none"/>
<path d="M828.5 1444.7L822.5 1444.7M828.5 1444.7L826.65 1438.99M828.5 1444.7L833.35 1441.17M828.5 1444.7L833.35 1448.23M828.5 1444.7L826.65 1450.41" stroke="#000" stroke-width="2" fill="none"/>
<path d="M828.5 1431.2L822.5 1431.2M828.5 1431.2L826.65 1425.49M828.5 1431.2L833.35 1427.67M828.5 1431.2L833.35 1434.73M828.5 1431.2L826.65 1436.91" stroke="#000" stroke-width="2" fill="none"/>
<path d="M828.5 1417.7L822.5 1417.7M828.5 1417.7L826.65 1411.99M828.5 1417.7L833.35 1414.17M828.5 1417.7L833.35 1421.23M828.5 1417.7L826.65 1423.41" stroke="#000" stroke-width="2" fill="none"/>
<path d="M828.5 1404.2L822.5 1404.2M828.5 1404.2L826.65 1398.49M828.5 1404.2L833.35 1400.67M828.5 1404.2L833.35 1407.73M828.5 1404.2L826.65 1409.91" stroke="#000" stroke-width="2" fill="none"/>
<path d="M876.1 1444.7L870.1 1444.7M876.1 1444.7L874.25 1438.99M876.1 1444.7L880.95 1441.17M876.1 1444.7L880.95 1448.23M876.1 1444.7L874.25 1450.41" stroke="#000" stroke-width="2" fill="none"/>
<path d="M876.1 1431.2L870.1 1431.2M876.1 1431.2L874.25 1425.49M876.1 1431.2L880.95 1427.67M876.1 1431.2L880.95 1434.73M876.1 1431.2L874.25 1436.91" stroke="#000" stroke-width="2" fill="none"/>
<path d="M876.1 1417.7L870.1 1417.7M876.1 1417.7L874.25 1411.99M876.1 1417.7L880.95 1414.17M876.1 1417.7L880.95 1421.23M876.1 1417.7L874.25 1423.41" stroke="#000" stroke-width="2" fill="none"/>
<path d="M876.1 1404.2L870.1 1404.2M876.1 1404.2L874.25 1398.49M876.1 1404.2L880.95 1400.67M876.1 1404.2L880.95 1407.73M876.1 1404.2L874.25 1409.91" stroke="#000" stroke-width="2" fill="none"/>
<text transform="translate(902.73 1444.7) scale(0.9620 1)" font-size="30">NS</text>
<line x1="1113" y1="1427.15" x2="1113" y2="1732.5" stroke="#000" stroke-width="2.9"/>
<line x1="1102.5" y1="1732.5" x2="1414.9" y2="1732.5" stroke="#000" stroke-width="2.9"/>
<line x1="1102.5" y1="1732.5" x2="1113" y2="1732.5" stroke="#000" stroke-width="2.9"/>
<text transform="translate(1081.72 1741.2) scale(0.9700 1)" font-size="29.5">2</text>
<line x1="1102.5" y1="1694.51" x2="1113" y2="1694.51" stroke="#000" stroke-width="2.9"/>
<text transform="translate(1081.54 1703.21) scale(0.9700 1)" font-size="29.5">3</text>
<line x1="1102.5" y1="1656.53" x2="1113" y2="1656.53" stroke="#000" stroke-width="2.9"/>
<text transform="translate(1081.12 1665.23) scale(0.9700 1)" font-size="29.5">4</text>
<line x1="1102.5" y1="1618.54" x2="1113" y2="1618.54" stroke="#000" stroke-width="2.9"/>
<text transform="translate(1081.49 1627.24) scale(0.9700 1)" font-size="29.5">5</text>
<line x1="1102.5" y1="1580.55" x2="1113" y2="1580.55" stroke="#000" stroke-width="2.9"/>
<text transform="translate(1081.54 1589.25) scale(0.9700 1)" font-size="29.5">6</text>
<line x1="1102.5" y1="1542.56" x2="1113" y2="1542.56" stroke="#000" stroke-width="2.9"/>
<text transform="translate(1081.72 1551.26) scale(0.9700 1)" font-size="29.5">7</text>
<line x1="1102.5" y1="1504.57" x2="1113" y2="1504.57" stroke="#000" stroke-width="2.9"/>
<text transform="translate(1081.53 1513.27) scale(0.9700 1)" font-size="29.5">8</text>
<line x1="1102.5" y1="1466.59" x2="1113" y2="1466.59" stroke="#000" stroke-width="2.9"/>
<text transform="translate(1081.64 1475.29) scale(0.9700 1)" font-size="29.5">9</text>
<line x1="1102.5" y1="1428.6" x2="1113" y2="1428.6" stroke="#000" stroke-width="2.9"/>
<text transform="translate(1065.49 1437.3) scale(0.9700 1)" font-size="29.5">10</text>
<line x1="1117" y1="1684.2" x2="1414.9" y2="1684.2" stroke="#000" stroke-width="2.1" stroke-dasharray="2.1 2.74"/>
<text transform="translate(1196.68 1778.6) scale(0.9439 1)" font-size="30">Nasal wash</text>
<text transform="translate(1052 1752.53) rotate(-90) scale(0.9557 1)" font-size="30">log<tspan font-size="21" dy="9.3">10</tspan><tspan dy="-9.3">(</tspan><tspan font-style="italic">N</tspan> gene copies per ml)</text>
<text transform="translate(996.44 1383.8) scale(1.3904 1)" font-size="32.5" font-weight="bold" fill="#222">l</text>
<line x1="1128.5" y1="1552.2" x2="1160.1" y2="1552.2" stroke="#000" stroke-width="2"/>
<circle cx="1144.6" cy="1438.1" r="7.15" fill="#a6a6a6" stroke="#000" stroke-width="1.85"/>
<circle cx="1136" cy="1529.8" r="7.15" fill="#a6a6a6" stroke="#000" stroke-width="1.85"/>
<circle cx="1144.6" cy="1520.9" r="7.15" fill="#a6a6a6" stroke="#000" stroke-width="1.85"/>
<circle cx="1153.4" cy="1543" r="7.15" fill="#a6a6a6" stroke="#000" stroke-width="1.85"/>
<circle cx="1144.6" cy="1555.6" r="7.15" fill="#a6a6a6" stroke="#000" stroke-width="1.85"/>
<circle cx="1136" cy="1554.8" r="7.15" fill="#a6a6a6" stroke="#000" stroke-width="1.85"/>
<circle cx="1136" cy="1578.8" r="7.15" fill="#a6a6a6" stroke="#000" stroke-width="1.85"/>
<circle cx="1153.4" cy="1580.8" r="7.15" fill="#a6a6a6" stroke="#000" stroke-width="1.85"/>
<circle cx="1144.6" cy="1593.9" r="7.15" fill="#a6a6a6" stroke="#000" stroke-width="1.85"/>
<circle cx="1144.6" cy="1623.4" r="7.15" fill="#a6a6a6" stroke="#000" stroke-width="1.85"/>
<line x1="1176.3" y1="1642.8" x2="1207.9" y2="1642.8" stroke="#000" stroke-width="2"/>
<circle cx="1192.7" cy="1609" r="7.15" fill="#f22800" stroke="#000" stroke-width="1.85"/>
<circle cx="1184" cy="1627" r="7.15" fill="#f22800" stroke="#000" stroke-width="1.85"/>
<circle cx="1201.4" cy="1627" r="7.15" fill="#f22800" stroke="#000" stroke-width="1.85"/>
<circle cx="1184" cy="1648.7" r="7.15" fill="#f22800" stroke="#000" stroke-width="1.85"/>
<circle cx="1201.4" cy="1660.1" r="7.15" fill="#f22800" stroke="#000" stroke-width="1.85"/>
<circle cx="1192.7" cy="1684" r="7.15" fill="#f22800" stroke="#000" stroke-width="1.85"/>
<line x1="1224.1" y1="1638.9" x2="1255.7" y2="1638.9" stroke="#000" stroke-width="2"/>
<circle cx="1240.9" cy="1599.1" r="7.15" fill="#0a8cf0" stroke="#000" stroke-width="1.85"/>
<circle cx="1232.2" cy="1632" r="7.15" fill="#0a8cf0" stroke="#000" stroke-width="1.85"/>
<circle cx="1249.5" cy="1635.9" r="7.15" fill="#0a8cf0" stroke="#000" stroke-width="1.85"/>
<circle cx="1240.9" cy="1644.8" r="7.15" fill="#0a8cf0" stroke="#000" stroke-width="1.85"/>
<circle cx="1232.2" cy="1661.9" r="7.15" fill="#0a8cf0" stroke="#000" stroke-width="1.85"/>
<circle cx="1249.5" cy="1659.1" r="7.15" fill="#0a8cf0" stroke="#000" stroke-width="1.85"/>
<line x1="1271.9" y1="1624.1" x2="1303.5" y2="1624.1" stroke="#000" stroke-width="2"/>
<circle cx="1289.4" cy="1575.8" r="7.15" fill="#72d29e" stroke="#000" stroke-width="1.85"/>
<circle cx="1288.5" cy="1594.4" r="7.15" fill="#72d29e" stroke="#000" stroke-width="1.85"/>
<circle cx="1297.4" cy="1618.1" r="7.15" fill="#72d29e" stroke="#000" stroke-width="1.85"/>
<circle cx="1280.1" cy="1623.6" r="7.15" fill="#72d29e" stroke="#000" stroke-width="1.85"/>
<circle cx="1288.5" cy="1648.4" r="7.15" fill="#72d29e" stroke="#000" stroke-width="1.85"/>
<circle cx="1288.5" cy="1683.8" r="7.15" fill="#72d29e" stroke="#000" stroke-width="1.85"/>
<line x1="1319.7" y1="1597.9" x2="1351.3" y2="1597.9" stroke="#000" stroke-width="2"/>
<circle cx="1345.4" cy="1574.7" r="7.15" fill="#9236f6" stroke="#000" stroke-width="1.85"/>
<circle cx="1328.1" cy="1581.1" r="7.15" fill="#9236f6" stroke="#000" stroke-width="1.85"/>
<circle cx="1345.4" cy="1589.5" r="7.15" fill="#9236f6" stroke="#000" stroke-width="1.85"/>
<circle cx="1328.1" cy="1602.8" r="7.15" fill="#9236f6" stroke="#000" stroke-width="1.85"/>
<circle cx="1345.4" cy="1616.9" r="7.15" fill="#9236f6" stroke="#000" stroke-width="1.85"/>
<circle cx="1328.1" cy="1620.7" r="7.15" fill="#9236f6" stroke="#000" stroke-width="1.85"/>
<line x1="1367.5" y1="1572" x2="1399.1" y2="1572" stroke="#000" stroke-width="2"/>
<circle cx="1389.2" cy="1570.1" r="7.15" fill="#fdd57e" stroke="#000" stroke-width="1.85"/>
<circle cx="1382" cy="1566.3" r="7.15" fill="#fdd57e" stroke="#000" stroke-width="1.85"/>
<circle cx="1376.1" cy="1556.9" r="7.15" fill="#fdd57e" stroke="#000" stroke-width="1.85"/>
<circle cx="1393.8" cy="1558.3" r="7.15" fill="#fdd57e" stroke="#000" stroke-width="1.85"/>
<circle cx="1385" cy="1608.9" r="7.15" fill="#fdd57e" stroke="#000" stroke-width="1.85"/>
<path d="M1195.9 1444.5L1189.9 1444.5M1195.9 1444.5L1194.05 1438.79M1195.9 1444.5L1200.75 1440.97M1195.9 1444.5L1200.75 1448.03M1195.9 1444.5L1194.05 1450.21" stroke="#000" stroke-width="2" fill="none"/>
<path d="M1195.9 1431L1189.9 1431M1195.9 1431L1194.05 1425.29M1195.9 1431L1200.75 1427.47M1195.9 1431L1200.75 1434.53M1195.9 1431L1194.05 1436.71" stroke="#000" stroke-width="2" fill="none"/>
<path d="M1195.9 1417.5L1189.9 1417.5M1195.9 1417.5L1194.05 1411.79M1195.9 1417.5L1200.75 1413.97M1195.9 1417.5L1200.75 1421.03M1195.9 1417.5L1194.05 1423.21" stroke="#000" stroke-width="2" fill="none"/>
<path d="M1195.9 1404L1189.9 1404M1195.9 1404L1194.05 1398.29M1195.9 1404L1200.75 1400.47M1195.9 1404L1200.75 1407.53M1195.9 1404L1194.05 1409.71" stroke="#000" stroke-width="2" fill="none"/>
<path d="M1243.4 1444.5L1237.4 1444.5M1243.4 1444.5L1241.55 1438.79M1243.4 1444.5L1248.25 1440.97M1243.4 1444.5L1248.25 1448.03M1243.4 1444.5L1241.55 1450.21" stroke="#000" stroke-width="2" fill="none"/>
<path d="M1243.4 1431L1237.4 1431M1243.4 1431L1241.55 1425.29M1243.4 1431L1248.25 1427.47M1243.4 1431L1248.25 1434.53M1243.4 1431L1241.55 1436.71" stroke="#000" stroke-width="2" fill="none"/>
<path d="M1243.4 1417.5L1237.4 1417.5M1243.4 1417.5L1241.55 1411.79M1243.4 1417.5L1248.25 1413.97M1243.4 1417.5L1248.25 1421.03M1243.4 1417.5L1241.55 1423.21" stroke="#000" stroke-width="2" fill="none"/>
<path d="M1290.8 1444.5L1284.8 1444.5M1290.8 1444.5L1288.95 1438.79M1290.8 1444.5L1295.65 1440.97M1290.8 1444.5L1295.65 1448.03M1290.8 1444.5L1288.95 1450.21" stroke="#000" stroke-width="2" fill="none"/>
<path d="M1290.8 1431L1284.8 1431M1290.8 1431L1288.95 1425.29M1290.8 1431L1295.65 1427.47M1290.8 1431L1295.65 1434.53M1290.8 1431L1288.95 1436.71" stroke="#000" stroke-width="2" fill="none"/>
<text transform="translate(1320.13 1450.4) scale(0.9620 1)" font-size="30">NS</text>
<text transform="translate(1366.53 1450.4) scale(0.9620 1)" font-size="30">NS</text>
<circle cx="218.8" cy="1872.3" r="9.5" fill="#a6a6a6" stroke="#000" stroke-width="2.3"/>
<text transform="translate(239.24 1882.3) scale(0.9582 1)" font-size="30">Control mAb</text>
<circle cx="444.8" cy="1872.3" r="9.5" fill="#f22800" stroke="#000" stroke-width="2.3"/>
<text transform="translate(465.47 1882.3) scale(0.9372 1)" font-size="30">COV2-2130/COV2-2196</text>
<circle cx="812.1" cy="1872.3" r="9.5" fill="#0a8cf0" stroke="#000" stroke-width="2.3"/>
<text transform="translate(832.93 1882.3) scale(0.9306 1)" font-size="30">S309/S2E12</text>
<circle cx="1029" cy="1872.3" r="9.5" fill="#72d29e" stroke="#000" stroke-width="2.3"/>
<text transform="translate(1049.22 1882.3) scale(0.9255 1)" font-size="30">REGN10933/REGN10987</text>
<circle cx="524" cy="1911.5" r="9.5" fill="#9236f6" stroke="#000" stroke-width="2.3"/>
<text transform="translate(543.61 1921.2) scale(0.9217 1)" font-size="30">2B04/47D11</text>
<circle cx="838.1" cy="1911.5" r="9.5" fill="#fdd57e" stroke="#000" stroke-width="2.3"/>
<text transform="translate(858.57 1921.2) scale(0.9077 1)" font-size="30">LY-CoV555</text>
</svg>
</body></html>
